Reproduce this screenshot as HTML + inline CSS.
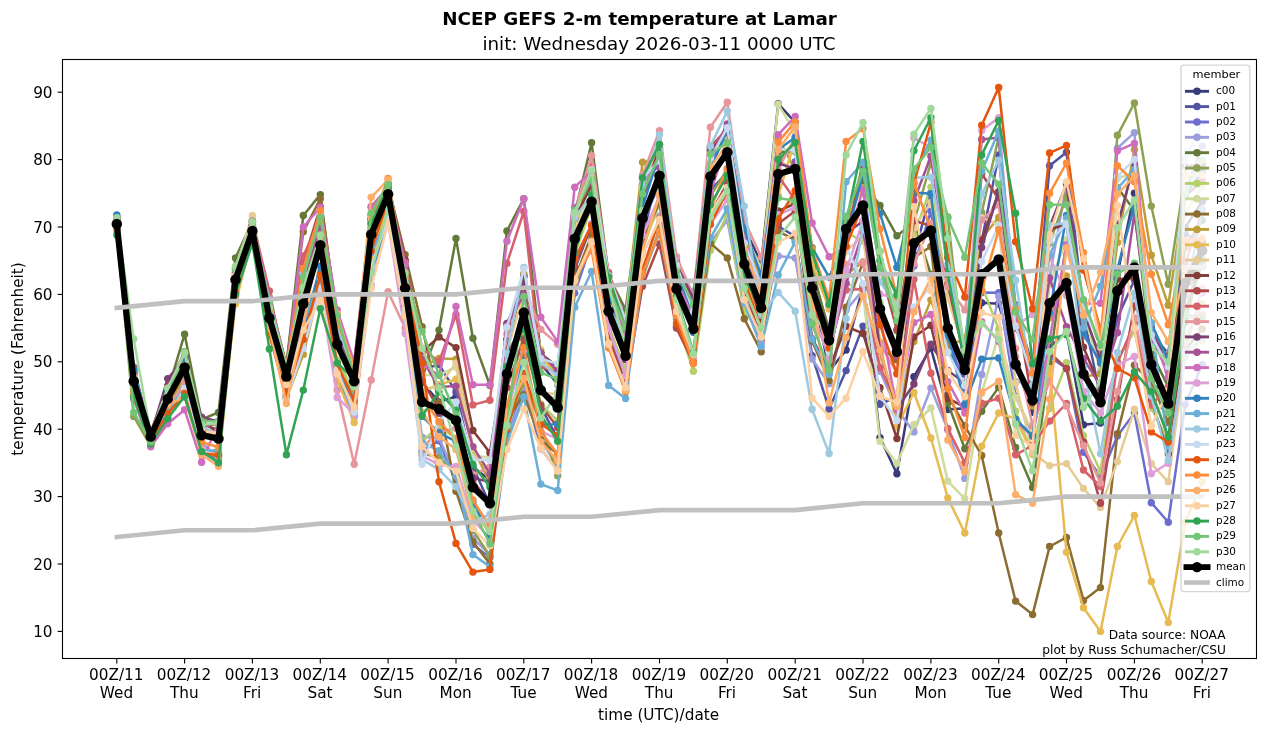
<!DOCTYPE html>
<html lang="en"><head><meta charset="utf-8"><title>NCEP GEFS 2-m temperature at Lamar</title>
<style>html,body{margin:0;padding:0;background:#fff}svg{display:block}text{font-family:"DejaVu Sans","Liberation Sans",sans-serif;fill:#000}</style></head>
<body>
<svg width="1266" height="733" viewBox="0 0 1266 733">
<rect width="1266" height="733" fill="#fff"/>
<defs><clipPath id="ax"><rect x="62.5" y="59.5" width="1194" height="599"/></clipPath></defs>
<g clip-path="url(#ax)">
<polyline points="116.8,218.4 133.7,374.4 150.7,433.8 167.7,386.8 184.6,355.1 201.6,422.3 218.5,430.8 235.5,275.2 252.4,226.6 269.4,312.2 286.4,372.5 303.3,295.5 320.3,222.0 337.2,320.1 354.2,366.9 371.2,223.1 388.1,190.4 405.1,281.9 422.1,382.2 439.0,401.9 456.0,396.6 472.9,467.1 489.9,480.1 506.9,339.2 523.8,275.9 540.8,363.7 557.7,384.2 574.7,208.1 591.6,177.0 608.6,281.4 625.6,328.8 642.5,185.9 659.5,148.9 676.5,266.8 693.4,315.2 710.4,156.3 727.3,131.5 744.3,227.7 761.2,263.0 778.2,103.7 795.2,122.5 812.1,284.6 829.1,371.2 846.1,350.0 863.0,286.8 880.0,437.6 896.9,473.7 913.9,376.7 930.9,348.2 947.8,409.5 964.8,408.3 981.7,302.8 998.7,303.8 1015.6,364.3 1032.6,412.2 1049.6,347.2 1066.5,331.9 1083.5,424.7 1100.5,423.1 1117.4,274.6 1134.4,193.3 1151.3,333.4 1168.3,353.8 1185.2,227.4 1202.2,201.6" fill="none" stroke="#393b79" stroke-width="2.50" stroke-linejoin="round" stroke-linecap="square"/>
<g fill="#393b79"><circle cx="116.8" cy="218.4" r="3.70"/><circle cx="133.7" cy="374.4" r="3.70"/><circle cx="150.7" cy="433.8" r="3.70"/><circle cx="167.7" cy="386.8" r="3.70"/><circle cx="184.6" cy="355.1" r="3.70"/><circle cx="201.6" cy="422.3" r="3.70"/><circle cx="218.5" cy="430.8" r="3.70"/><circle cx="235.5" cy="275.2" r="3.70"/><circle cx="252.4" cy="226.6" r="3.70"/><circle cx="269.4" cy="312.2" r="3.70"/><circle cx="286.4" cy="372.5" r="3.70"/><circle cx="303.3" cy="295.5" r="3.70"/><circle cx="320.3" cy="222.0" r="3.70"/><circle cx="337.2" cy="320.1" r="3.70"/><circle cx="354.2" cy="366.9" r="3.70"/><circle cx="371.2" cy="223.1" r="3.70"/><circle cx="388.1" cy="190.4" r="3.70"/><circle cx="405.1" cy="281.9" r="3.70"/><circle cx="422.1" cy="382.2" r="3.70"/><circle cx="439.0" cy="401.9" r="3.70"/><circle cx="456.0" cy="396.6" r="3.70"/><circle cx="472.9" cy="467.1" r="3.70"/><circle cx="489.9" cy="480.1" r="3.70"/><circle cx="506.9" cy="339.2" r="3.70"/><circle cx="523.8" cy="275.9" r="3.70"/><circle cx="540.8" cy="363.7" r="3.70"/><circle cx="557.7" cy="384.2" r="3.70"/><circle cx="574.7" cy="208.1" r="3.70"/><circle cx="591.6" cy="177.0" r="3.70"/><circle cx="608.6" cy="281.4" r="3.70"/><circle cx="625.6" cy="328.8" r="3.70"/><circle cx="642.5" cy="185.9" r="3.70"/><circle cx="659.5" cy="148.9" r="3.70"/><circle cx="676.5" cy="266.8" r="3.70"/><circle cx="693.4" cy="315.2" r="3.70"/><circle cx="710.4" cy="156.3" r="3.70"/><circle cx="727.3" cy="131.5" r="3.70"/><circle cx="744.3" cy="227.7" r="3.70"/><circle cx="761.2" cy="263.0" r="3.70"/><circle cx="778.2" cy="103.7" r="3.70"/><circle cx="795.2" cy="122.5" r="3.70"/><circle cx="812.1" cy="284.6" r="3.70"/><circle cx="829.1" cy="371.2" r="3.70"/><circle cx="846.1" cy="350.0" r="3.70"/><circle cx="863.0" cy="286.8" r="3.70"/><circle cx="880.0" cy="437.6" r="3.70"/><circle cx="896.9" cy="473.7" r="3.70"/><circle cx="913.9" cy="376.7" r="3.70"/><circle cx="930.9" cy="348.2" r="3.70"/><circle cx="947.8" cy="409.5" r="3.70"/><circle cx="964.8" cy="408.3" r="3.70"/><circle cx="981.7" cy="302.8" r="3.70"/><circle cx="998.7" cy="303.8" r="3.70"/><circle cx="1015.6" cy="364.3" r="3.70"/><circle cx="1032.6" cy="412.2" r="3.70"/><circle cx="1049.6" cy="347.2" r="3.70"/><circle cx="1066.5" cy="331.9" r="3.70"/><circle cx="1083.5" cy="424.7" r="3.70"/><circle cx="1100.5" cy="423.1" r="3.70"/><circle cx="1117.4" cy="274.6" r="3.70"/><circle cx="1134.4" cy="193.3" r="3.70"/><circle cx="1151.3" cy="333.4" r="3.70"/><circle cx="1168.3" cy="353.8" r="3.70"/><circle cx="1185.2" cy="227.4" r="3.70"/><circle cx="1202.2" cy="201.6" r="3.70"/></g>
<polyline points="116.8,224.6 133.7,388.0 150.7,443.4 167.7,414.3 184.6,391.1 201.6,452.3 218.5,452.2 235.5,285.9 252.4,233.3 269.4,313.0 286.4,372.6 303.3,295.7 320.3,233.1 337.2,332.6 354.2,365.8 371.2,227.4 388.1,193.7 405.1,279.3 422.1,369.4 439.0,364.5 456.0,391.9 472.9,466.7 489.9,504.5 506.9,353.8 523.8,323.8 540.8,407.0 557.7,438.4 574.7,269.5 591.6,224.5 608.6,338.7 625.6,380.5 642.5,237.5 659.5,167.2 676.5,290.3 693.4,332.2 710.4,189.8 727.3,173.0 744.3,297.5 761.2,341.8 778.2,226.3 795.2,236.4 812.1,355.7 829.1,409.0 846.1,370.6 863.0,326.1 880.0,404.3 896.9,396.7 913.9,254.8 930.9,193.3 947.8,352.4 964.8,374.3 981.7,241.0 998.7,154.9 1015.6,328.0 1032.6,366.3 1049.6,165.7 1066.5,152.2 1083.5,315.3 1100.5,397.4 1117.4,318.0 1134.4,280.1 1151.3,384.6 1168.3,392.2 1185.2,234.1 1202.2,241.9" fill="none" stroke="#5254a3" stroke-width="2.50" stroke-linejoin="round" stroke-linecap="square"/>
<g fill="#5254a3"><circle cx="116.8" cy="224.6" r="3.70"/><circle cx="133.7" cy="388.0" r="3.70"/><circle cx="150.7" cy="443.4" r="3.70"/><circle cx="167.7" cy="414.3" r="3.70"/><circle cx="184.6" cy="391.1" r="3.70"/><circle cx="201.6" cy="452.3" r="3.70"/><circle cx="218.5" cy="452.2" r="3.70"/><circle cx="235.5" cy="285.9" r="3.70"/><circle cx="252.4" cy="233.3" r="3.70"/><circle cx="269.4" cy="313.0" r="3.70"/><circle cx="286.4" cy="372.6" r="3.70"/><circle cx="303.3" cy="295.7" r="3.70"/><circle cx="320.3" cy="233.1" r="3.70"/><circle cx="337.2" cy="332.6" r="3.70"/><circle cx="354.2" cy="365.8" r="3.70"/><circle cx="371.2" cy="227.4" r="3.70"/><circle cx="388.1" cy="193.7" r="3.70"/><circle cx="405.1" cy="279.3" r="3.70"/><circle cx="422.1" cy="369.4" r="3.70"/><circle cx="439.0" cy="364.5" r="3.70"/><circle cx="456.0" cy="391.9" r="3.70"/><circle cx="472.9" cy="466.7" r="3.70"/><circle cx="489.9" cy="504.5" r="3.70"/><circle cx="506.9" cy="353.8" r="3.70"/><circle cx="523.8" cy="323.8" r="3.70"/><circle cx="540.8" cy="407.0" r="3.70"/><circle cx="557.7" cy="438.4" r="3.70"/><circle cx="574.7" cy="269.5" r="3.70"/><circle cx="591.6" cy="224.5" r="3.70"/><circle cx="608.6" cy="338.7" r="3.70"/><circle cx="625.6" cy="380.5" r="3.70"/><circle cx="642.5" cy="237.5" r="3.70"/><circle cx="659.5" cy="167.2" r="3.70"/><circle cx="676.5" cy="290.3" r="3.70"/><circle cx="693.4" cy="332.2" r="3.70"/><circle cx="710.4" cy="189.8" r="3.70"/><circle cx="727.3" cy="173.0" r="3.70"/><circle cx="744.3" cy="297.5" r="3.70"/><circle cx="761.2" cy="341.8" r="3.70"/><circle cx="778.2" cy="226.3" r="3.70"/><circle cx="795.2" cy="236.4" r="3.70"/><circle cx="812.1" cy="355.7" r="3.70"/><circle cx="829.1" cy="409.0" r="3.70"/><circle cx="846.1" cy="370.6" r="3.70"/><circle cx="863.0" cy="326.1" r="3.70"/><circle cx="880.0" cy="404.3" r="3.70"/><circle cx="896.9" cy="396.7" r="3.70"/><circle cx="913.9" cy="254.8" r="3.70"/><circle cx="930.9" cy="193.3" r="3.70"/><circle cx="947.8" cy="352.4" r="3.70"/><circle cx="964.8" cy="374.3" r="3.70"/><circle cx="981.7" cy="241.0" r="3.70"/><circle cx="998.7" cy="154.9" r="3.70"/><circle cx="1015.6" cy="328.0" r="3.70"/><circle cx="1032.6" cy="366.3" r="3.70"/><circle cx="1049.6" cy="165.7" r="3.70"/><circle cx="1066.5" cy="152.2" r="3.70"/><circle cx="1083.5" cy="315.3" r="3.70"/><circle cx="1100.5" cy="397.4" r="3.70"/><circle cx="1117.4" cy="318.0" r="3.70"/><circle cx="1134.4" cy="280.1" r="3.70"/><circle cx="1151.3" cy="384.6" r="3.70"/><circle cx="1168.3" cy="392.2" r="3.70"/><circle cx="1185.2" cy="234.1" r="3.70"/><circle cx="1202.2" cy="241.9" r="3.70"/></g>
<polyline points="116.8,225.3 133.7,394.9 150.7,442.1 167.7,417.1 184.6,391.8 201.6,451.2 218.5,459.3 235.5,294.4 252.4,236.4 269.4,327.5 286.4,398.2 303.3,345.5 320.3,278.0 337.2,379.8 354.2,414.2 371.2,271.0 388.1,220.8 405.1,306.4 422.1,450.9 439.0,440.8 456.0,482.8 472.9,544.4 489.9,557.6 506.9,440.7 523.8,384.4 540.8,448.7 557.7,470.3 574.7,293.1 591.6,242.8 608.6,334.3 625.6,374.0 642.5,223.2 659.5,183.4 676.5,271.5 693.4,292.4 710.4,158.8 727.3,139.7 744.3,242.2 761.2,298.1 778.2,179.9 795.2,161.6 812.1,273.8 829.1,329.0 846.1,224.8 863.0,183.1 880.0,307.8 896.9,359.5 913.9,266.0 930.9,211.1 947.8,331.5 964.8,391.3 981.7,292.4 998.7,292.7 1015.6,396.1 1032.6,433.9 1049.6,356.8 1066.5,368.6 1083.5,452.2 1100.5,476.4 1117.4,435.9 1134.4,413.0 1151.3,502.7 1168.3,522.2 1185.2,404.5 1202.2,364.6" fill="none" stroke="#6b6ecf" stroke-width="2.50" stroke-linejoin="round" stroke-linecap="square"/>
<g fill="#6b6ecf"><circle cx="116.8" cy="225.3" r="3.70"/><circle cx="133.7" cy="394.9" r="3.70"/><circle cx="150.7" cy="442.1" r="3.70"/><circle cx="167.7" cy="417.1" r="3.70"/><circle cx="184.6" cy="391.8" r="3.70"/><circle cx="201.6" cy="451.2" r="3.70"/><circle cx="218.5" cy="459.3" r="3.70"/><circle cx="235.5" cy="294.4" r="3.70"/><circle cx="252.4" cy="236.4" r="3.70"/><circle cx="269.4" cy="327.5" r="3.70"/><circle cx="286.4" cy="398.2" r="3.70"/><circle cx="303.3" cy="345.5" r="3.70"/><circle cx="320.3" cy="278.0" r="3.70"/><circle cx="337.2" cy="379.8" r="3.70"/><circle cx="354.2" cy="414.2" r="3.70"/><circle cx="371.2" cy="271.0" r="3.70"/><circle cx="388.1" cy="220.8" r="3.70"/><circle cx="405.1" cy="306.4" r="3.70"/><circle cx="422.1" cy="450.9" r="3.70"/><circle cx="439.0" cy="440.8" r="3.70"/><circle cx="456.0" cy="482.8" r="3.70"/><circle cx="472.9" cy="544.4" r="3.70"/><circle cx="489.9" cy="557.6" r="3.70"/><circle cx="506.9" cy="440.7" r="3.70"/><circle cx="523.8" cy="384.4" r="3.70"/><circle cx="540.8" cy="448.7" r="3.70"/><circle cx="557.7" cy="470.3" r="3.70"/><circle cx="574.7" cy="293.1" r="3.70"/><circle cx="591.6" cy="242.8" r="3.70"/><circle cx="608.6" cy="334.3" r="3.70"/><circle cx="625.6" cy="374.0" r="3.70"/><circle cx="642.5" cy="223.2" r="3.70"/><circle cx="659.5" cy="183.4" r="3.70"/><circle cx="676.5" cy="271.5" r="3.70"/><circle cx="693.4" cy="292.4" r="3.70"/><circle cx="710.4" cy="158.8" r="3.70"/><circle cx="727.3" cy="139.7" r="3.70"/><circle cx="744.3" cy="242.2" r="3.70"/><circle cx="761.2" cy="298.1" r="3.70"/><circle cx="778.2" cy="179.9" r="3.70"/><circle cx="795.2" cy="161.6" r="3.70"/><circle cx="812.1" cy="273.8" r="3.70"/><circle cx="829.1" cy="329.0" r="3.70"/><circle cx="846.1" cy="224.8" r="3.70"/><circle cx="863.0" cy="183.1" r="3.70"/><circle cx="880.0" cy="307.8" r="3.70"/><circle cx="896.9" cy="359.5" r="3.70"/><circle cx="913.9" cy="266.0" r="3.70"/><circle cx="930.9" cy="211.1" r="3.70"/><circle cx="947.8" cy="331.5" r="3.70"/><circle cx="964.8" cy="391.3" r="3.70"/><circle cx="981.7" cy="292.4" r="3.70"/><circle cx="998.7" cy="292.7" r="3.70"/><circle cx="1015.6" cy="396.1" r="3.70"/><circle cx="1032.6" cy="433.9" r="3.70"/><circle cx="1049.6" cy="356.8" r="3.70"/><circle cx="1066.5" cy="368.6" r="3.70"/><circle cx="1083.5" cy="452.2" r="3.70"/><circle cx="1100.5" cy="476.4" r="3.70"/><circle cx="1117.4" cy="435.9" r="3.70"/><circle cx="1134.4" cy="413.0" r="3.70"/><circle cx="1151.3" cy="502.7" r="3.70"/><circle cx="1168.3" cy="522.2" r="3.70"/><circle cx="1185.2" cy="404.5" r="3.70"/><circle cx="1202.2" cy="364.6" r="3.70"/></g>
<polyline points="116.8,218.0 133.7,371.4 150.7,432.7 167.7,393.2 184.6,367.5 201.6,442.9 218.5,457.3 235.5,297.8 252.4,239.2 269.4,333.5 286.4,397.9 303.3,328.2 320.3,292.3 337.2,372.4 354.2,416.8 371.2,272.7 388.1,215.2 405.1,318.0 422.1,437.1 439.0,437.8 456.0,476.9 472.9,538.5 489.9,554.4 506.9,439.9 523.8,390.5 540.8,440.2 557.7,466.7 574.7,284.4 591.6,238.6 608.6,341.2 625.6,385.0 642.5,273.0 659.5,216.2 676.5,326.2 693.4,351.5 710.4,242.0 727.3,220.4 744.3,308.8 761.2,329.1 778.2,255.9 795.2,258.0 812.1,359.0 829.1,383.7 846.1,310.1 863.0,290.0 880.0,371.2 896.9,409.2 913.9,431.9 930.9,388.1 947.8,429.9 964.8,478.4 981.7,374.4 998.7,296.2 1015.6,381.6 1032.6,383.7 1049.6,277.4 1066.5,183.6 1083.5,335.9 1100.5,358.8 1117.4,148.1 1134.4,132.6 1151.3,348.3 1168.3,353.9 1185.2,191.8 1202.2,146.1" fill="none" stroke="#9c9ede" stroke-width="2.50" stroke-linejoin="round" stroke-linecap="square"/>
<g fill="#9c9ede"><circle cx="116.8" cy="218.0" r="3.70"/><circle cx="133.7" cy="371.4" r="3.70"/><circle cx="150.7" cy="432.7" r="3.70"/><circle cx="167.7" cy="393.2" r="3.70"/><circle cx="184.6" cy="367.5" r="3.70"/><circle cx="201.6" cy="442.9" r="3.70"/><circle cx="218.5" cy="457.3" r="3.70"/><circle cx="235.5" cy="297.8" r="3.70"/><circle cx="252.4" cy="239.2" r="3.70"/><circle cx="269.4" cy="333.5" r="3.70"/><circle cx="286.4" cy="397.9" r="3.70"/><circle cx="303.3" cy="328.2" r="3.70"/><circle cx="320.3" cy="292.3" r="3.70"/><circle cx="337.2" cy="372.4" r="3.70"/><circle cx="354.2" cy="416.8" r="3.70"/><circle cx="371.2" cy="272.7" r="3.70"/><circle cx="388.1" cy="215.2" r="3.70"/><circle cx="405.1" cy="318.0" r="3.70"/><circle cx="422.1" cy="437.1" r="3.70"/><circle cx="439.0" cy="437.8" r="3.70"/><circle cx="456.0" cy="476.9" r="3.70"/><circle cx="472.9" cy="538.5" r="3.70"/><circle cx="489.9" cy="554.4" r="3.70"/><circle cx="506.9" cy="439.9" r="3.70"/><circle cx="523.8" cy="390.5" r="3.70"/><circle cx="540.8" cy="440.2" r="3.70"/><circle cx="557.7" cy="466.7" r="3.70"/><circle cx="574.7" cy="284.4" r="3.70"/><circle cx="591.6" cy="238.6" r="3.70"/><circle cx="608.6" cy="341.2" r="3.70"/><circle cx="625.6" cy="385.0" r="3.70"/><circle cx="642.5" cy="273.0" r="3.70"/><circle cx="659.5" cy="216.2" r="3.70"/><circle cx="676.5" cy="326.2" r="3.70"/><circle cx="693.4" cy="351.5" r="3.70"/><circle cx="710.4" cy="242.0" r="3.70"/><circle cx="727.3" cy="220.4" r="3.70"/><circle cx="744.3" cy="308.8" r="3.70"/><circle cx="761.2" cy="329.1" r="3.70"/><circle cx="778.2" cy="255.9" r="3.70"/><circle cx="795.2" cy="258.0" r="3.70"/><circle cx="812.1" cy="359.0" r="3.70"/><circle cx="829.1" cy="383.7" r="3.70"/><circle cx="846.1" cy="310.1" r="3.70"/><circle cx="863.0" cy="290.0" r="3.70"/><circle cx="880.0" cy="371.2" r="3.70"/><circle cx="896.9" cy="409.2" r="3.70"/><circle cx="913.9" cy="431.9" r="3.70"/><circle cx="930.9" cy="388.1" r="3.70"/><circle cx="947.8" cy="429.9" r="3.70"/><circle cx="964.8" cy="478.4" r="3.70"/><circle cx="981.7" cy="374.4" r="3.70"/><circle cx="998.7" cy="296.2" r="3.70"/><circle cx="1015.6" cy="381.6" r="3.70"/><circle cx="1032.6" cy="383.7" r="3.70"/><circle cx="1049.6" cy="277.4" r="3.70"/><circle cx="1066.5" cy="183.6" r="3.70"/><circle cx="1083.5" cy="335.9" r="3.70"/><circle cx="1100.5" cy="358.8" r="3.70"/><circle cx="1117.4" cy="148.1" r="3.70"/><circle cx="1134.4" cy="132.6" r="3.70"/><circle cx="1151.3" cy="348.3" r="3.70"/><circle cx="1168.3" cy="353.9" r="3.70"/><circle cx="1185.2" cy="191.8" r="3.70"/><circle cx="1202.2" cy="146.1" r="3.70"/></g>
<polyline points="116.8,218.8 133.7,375.0 150.7,434.2 167.7,391.2 184.6,334.2 201.6,419.5 218.5,412.4 235.5,258.0 252.4,221.2 269.4,297.1 286.4,365.2 303.3,215.5 320.3,194.6 337.2,321.4 354.2,366.5 371.2,221.6 388.1,183.3 405.1,261.2 422.1,372.1 439.0,330.1 456.0,238.5 472.9,338.2 489.9,385.4 506.9,231.0 523.8,198.7 540.8,353.8 557.7,367.0 574.7,214.1 591.6,142.8 608.6,275.7 625.6,309.9 642.5,180.6 659.5,156.0 676.5,264.9 693.4,308.8 710.4,148.4 727.3,141.2 744.3,228.7 761.2,297.2 778.2,152.0 795.2,151.2 812.1,268.5 829.1,331.8 846.1,220.6 863.0,181.9 880.0,205.4 896.9,235.8 913.9,222.8 930.9,274.5 947.8,402.9 964.8,448.7 981.7,411.3 998.7,387.4 1015.6,447.4 1032.6,487.5 1049.6,363.1 1066.5,241.2 1083.5,302.8 1100.5,346.6 1117.4,187.6 1134.4,210.5 1151.3,352.1 1168.3,387.1 1185.2,247.1 1202.2,220.2" fill="none" stroke="#637939" stroke-width="2.50" stroke-linejoin="round" stroke-linecap="square"/>
<g fill="#637939"><circle cx="116.8" cy="218.8" r="3.70"/><circle cx="133.7" cy="375.0" r="3.70"/><circle cx="150.7" cy="434.2" r="3.70"/><circle cx="167.7" cy="391.2" r="3.70"/><circle cx="184.6" cy="334.2" r="3.70"/><circle cx="201.6" cy="419.5" r="3.70"/><circle cx="218.5" cy="412.4" r="3.70"/><circle cx="235.5" cy="258.0" r="3.70"/><circle cx="252.4" cy="221.2" r="3.70"/><circle cx="269.4" cy="297.1" r="3.70"/><circle cx="286.4" cy="365.2" r="3.70"/><circle cx="303.3" cy="215.5" r="3.70"/><circle cx="320.3" cy="194.6" r="3.70"/><circle cx="337.2" cy="321.4" r="3.70"/><circle cx="354.2" cy="366.5" r="3.70"/><circle cx="371.2" cy="221.6" r="3.70"/><circle cx="388.1" cy="183.3" r="3.70"/><circle cx="405.1" cy="261.2" r="3.70"/><circle cx="422.1" cy="372.1" r="3.70"/><circle cx="439.0" cy="330.1" r="3.70"/><circle cx="456.0" cy="238.5" r="3.70"/><circle cx="472.9" cy="338.2" r="3.70"/><circle cx="489.9" cy="385.4" r="3.70"/><circle cx="506.9" cy="231.0" r="3.70"/><circle cx="523.8" cy="198.7" r="3.70"/><circle cx="540.8" cy="353.8" r="3.70"/><circle cx="557.7" cy="367.0" r="3.70"/><circle cx="574.7" cy="214.1" r="3.70"/><circle cx="591.6" cy="142.8" r="3.70"/><circle cx="608.6" cy="275.7" r="3.70"/><circle cx="625.6" cy="309.9" r="3.70"/><circle cx="642.5" cy="180.6" r="3.70"/><circle cx="659.5" cy="156.0" r="3.70"/><circle cx="676.5" cy="264.9" r="3.70"/><circle cx="693.4" cy="308.8" r="3.70"/><circle cx="710.4" cy="148.4" r="3.70"/><circle cx="727.3" cy="141.2" r="3.70"/><circle cx="744.3" cy="228.7" r="3.70"/><circle cx="761.2" cy="297.2" r="3.70"/><circle cx="778.2" cy="152.0" r="3.70"/><circle cx="795.2" cy="151.2" r="3.70"/><circle cx="812.1" cy="268.5" r="3.70"/><circle cx="829.1" cy="331.8" r="3.70"/><circle cx="846.1" cy="220.6" r="3.70"/><circle cx="863.0" cy="181.9" r="3.70"/><circle cx="880.0" cy="205.4" r="3.70"/><circle cx="896.9" cy="235.8" r="3.70"/><circle cx="913.9" cy="222.8" r="3.70"/><circle cx="930.9" cy="274.5" r="3.70"/><circle cx="947.8" cy="402.9" r="3.70"/><circle cx="964.8" cy="448.7" r="3.70"/><circle cx="981.7" cy="411.3" r="3.70"/><circle cx="998.7" cy="387.4" r="3.70"/><circle cx="1015.6" cy="447.4" r="3.70"/><circle cx="1032.6" cy="487.5" r="3.70"/><circle cx="1049.6" cy="363.1" r="3.70"/><circle cx="1066.5" cy="241.2" r="3.70"/><circle cx="1083.5" cy="302.8" r="3.70"/><circle cx="1100.5" cy="346.6" r="3.70"/><circle cx="1117.4" cy="187.6" r="3.70"/><circle cx="1134.4" cy="210.5" r="3.70"/><circle cx="1151.3" cy="352.1" r="3.70"/><circle cx="1168.3" cy="387.1" r="3.70"/><circle cx="1185.2" cy="247.1" r="3.70"/><circle cx="1202.2" cy="220.2" r="3.70"/></g>
<polyline points="116.8,229.5 133.7,416.4 150.7,446.1 167.7,419.1 184.6,386.5 201.6,450.6 218.5,457.3 235.5,289.4 252.4,237.2 269.4,327.8 286.4,396.5 303.3,344.7 320.3,283.8 337.2,379.8 354.2,405.2 371.2,267.1 388.1,216.7 405.1,314.1 422.1,453.5 439.0,457.4 456.0,474.2 472.9,530.2 489.9,556.3 506.9,428.5 523.8,381.8 540.8,424.3 557.7,475.7 574.7,286.5 591.6,240.5 608.6,338.1 625.6,389.2 642.5,278.6 659.5,228.5 676.5,327.5 693.4,357.6 710.4,196.2 727.3,169.2 744.3,277.2 761.2,314.8 778.2,159.9 795.2,148.3 812.1,267.1 829.1,305.9 846.1,225.0 863.0,164.9 880.0,251.2 896.9,330.8 913.9,222.5 930.9,162.6 947.8,216.9 964.8,369.3 981.7,212.7 998.7,136.8 1015.6,307.8 1032.6,366.2 1049.6,242.9 1066.5,196.5 1083.5,315.1 1100.5,355.7 1117.4,135.3 1134.4,103.0 1151.3,206.1 1168.3,284.3 1185.2,174.9 1202.2,175.0" fill="none" stroke="#8ca252" stroke-width="2.50" stroke-linejoin="round" stroke-linecap="square"/>
<g fill="#8ca252"><circle cx="116.8" cy="229.5" r="3.70"/><circle cx="133.7" cy="416.4" r="3.70"/><circle cx="150.7" cy="446.1" r="3.70"/><circle cx="167.7" cy="419.1" r="3.70"/><circle cx="184.6" cy="386.5" r="3.70"/><circle cx="201.6" cy="450.6" r="3.70"/><circle cx="218.5" cy="457.3" r="3.70"/><circle cx="235.5" cy="289.4" r="3.70"/><circle cx="252.4" cy="237.2" r="3.70"/><circle cx="269.4" cy="327.8" r="3.70"/><circle cx="286.4" cy="396.5" r="3.70"/><circle cx="303.3" cy="344.7" r="3.70"/><circle cx="320.3" cy="283.8" r="3.70"/><circle cx="337.2" cy="379.8" r="3.70"/><circle cx="354.2" cy="405.2" r="3.70"/><circle cx="371.2" cy="267.1" r="3.70"/><circle cx="388.1" cy="216.7" r="3.70"/><circle cx="405.1" cy="314.1" r="3.70"/><circle cx="422.1" cy="453.5" r="3.70"/><circle cx="439.0" cy="457.4" r="3.70"/><circle cx="456.0" cy="474.2" r="3.70"/><circle cx="472.9" cy="530.2" r="3.70"/><circle cx="489.9" cy="556.3" r="3.70"/><circle cx="506.9" cy="428.5" r="3.70"/><circle cx="523.8" cy="381.8" r="3.70"/><circle cx="540.8" cy="424.3" r="3.70"/><circle cx="557.7" cy="475.7" r="3.70"/><circle cx="574.7" cy="286.5" r="3.70"/><circle cx="591.6" cy="240.5" r="3.70"/><circle cx="608.6" cy="338.1" r="3.70"/><circle cx="625.6" cy="389.2" r="3.70"/><circle cx="642.5" cy="278.6" r="3.70"/><circle cx="659.5" cy="228.5" r="3.70"/><circle cx="676.5" cy="327.5" r="3.70"/><circle cx="693.4" cy="357.6" r="3.70"/><circle cx="710.4" cy="196.2" r="3.70"/><circle cx="727.3" cy="169.2" r="3.70"/><circle cx="744.3" cy="277.2" r="3.70"/><circle cx="761.2" cy="314.8" r="3.70"/><circle cx="778.2" cy="159.9" r="3.70"/><circle cx="795.2" cy="148.3" r="3.70"/><circle cx="812.1" cy="267.1" r="3.70"/><circle cx="829.1" cy="305.9" r="3.70"/><circle cx="846.1" cy="225.0" r="3.70"/><circle cx="863.0" cy="164.9" r="3.70"/><circle cx="880.0" cy="251.2" r="3.70"/><circle cx="896.9" cy="330.8" r="3.70"/><circle cx="913.9" cy="222.5" r="3.70"/><circle cx="930.9" cy="162.6" r="3.70"/><circle cx="947.8" cy="216.9" r="3.70"/><circle cx="964.8" cy="369.3" r="3.70"/><circle cx="981.7" cy="212.7" r="3.70"/><circle cx="998.7" cy="136.8" r="3.70"/><circle cx="1015.6" cy="307.8" r="3.70"/><circle cx="1032.6" cy="366.2" r="3.70"/><circle cx="1049.6" cy="242.9" r="3.70"/><circle cx="1066.5" cy="196.5" r="3.70"/><circle cx="1083.5" cy="315.1" r="3.70"/><circle cx="1100.5" cy="355.7" r="3.70"/><circle cx="1117.4" cy="135.3" r="3.70"/><circle cx="1134.4" cy="103.0" r="3.70"/><circle cx="1151.3" cy="206.1" r="3.70"/><circle cx="1168.3" cy="284.3" r="3.70"/><circle cx="1185.2" cy="174.9" r="3.70"/><circle cx="1202.2" cy="175.0" r="3.70"/></g>
<polyline points="116.8,229.9 133.7,399.6 150.7,440.8 167.7,405.6 184.6,387.3 201.6,450.0 218.5,454.2 235.5,288.8 252.4,235.3 269.4,326.9 286.4,391.8 303.3,323.5 320.3,272.3 337.2,359.9 354.2,391.9 371.2,240.9 388.1,204.6 405.1,293.3 422.1,441.2 439.0,426.4 456.0,438.6 472.9,504.8 489.9,523.5 506.9,406.5 523.8,332.4 540.8,403.9 557.7,421.0 574.7,255.0 591.6,206.2 608.6,325.7 625.6,369.6 642.5,248.7 659.5,203.4 676.5,319.7 693.4,371.2 710.4,250.6 727.3,214.2 744.3,311.2 761.2,333.7 778.2,213.0 795.2,200.2 812.1,322.7 829.1,348.8 846.1,232.4 863.0,241.1 880.0,303.0 896.9,351.1 913.9,235.4 930.9,187.1 947.8,295.1 964.8,354.1 981.7,285.3 998.7,329.4 1015.6,411.3 1032.6,454.5 1049.6,408.6 1066.5,362.8 1083.5,435.8 1100.5,471.3 1117.4,360.0 1134.4,330.9 1151.3,408.0 1168.3,440.9 1185.2,337.5 1202.2,304.2" fill="none" stroke="#b5cf6b" stroke-width="2.50" stroke-linejoin="round" stroke-linecap="square"/>
<g fill="#b5cf6b"><circle cx="116.8" cy="229.9" r="3.70"/><circle cx="133.7" cy="399.6" r="3.70"/><circle cx="150.7" cy="440.8" r="3.70"/><circle cx="167.7" cy="405.6" r="3.70"/><circle cx="184.6" cy="387.3" r="3.70"/><circle cx="201.6" cy="450.0" r="3.70"/><circle cx="218.5" cy="454.2" r="3.70"/><circle cx="235.5" cy="288.8" r="3.70"/><circle cx="252.4" cy="235.3" r="3.70"/><circle cx="269.4" cy="326.9" r="3.70"/><circle cx="286.4" cy="391.8" r="3.70"/><circle cx="303.3" cy="323.5" r="3.70"/><circle cx="320.3" cy="272.3" r="3.70"/><circle cx="337.2" cy="359.9" r="3.70"/><circle cx="354.2" cy="391.9" r="3.70"/><circle cx="371.2" cy="240.9" r="3.70"/><circle cx="388.1" cy="204.6" r="3.70"/><circle cx="405.1" cy="293.3" r="3.70"/><circle cx="422.1" cy="441.2" r="3.70"/><circle cx="439.0" cy="426.4" r="3.70"/><circle cx="456.0" cy="438.6" r="3.70"/><circle cx="472.9" cy="504.8" r="3.70"/><circle cx="489.9" cy="523.5" r="3.70"/><circle cx="506.9" cy="406.5" r="3.70"/><circle cx="523.8" cy="332.4" r="3.70"/><circle cx="540.8" cy="403.9" r="3.70"/><circle cx="557.7" cy="421.0" r="3.70"/><circle cx="574.7" cy="255.0" r="3.70"/><circle cx="591.6" cy="206.2" r="3.70"/><circle cx="608.6" cy="325.7" r="3.70"/><circle cx="625.6" cy="369.6" r="3.70"/><circle cx="642.5" cy="248.7" r="3.70"/><circle cx="659.5" cy="203.4" r="3.70"/><circle cx="676.5" cy="319.7" r="3.70"/><circle cx="693.4" cy="371.2" r="3.70"/><circle cx="710.4" cy="250.6" r="3.70"/><circle cx="727.3" cy="214.2" r="3.70"/><circle cx="744.3" cy="311.2" r="3.70"/><circle cx="761.2" cy="333.7" r="3.70"/><circle cx="778.2" cy="213.0" r="3.70"/><circle cx="795.2" cy="200.2" r="3.70"/><circle cx="812.1" cy="322.7" r="3.70"/><circle cx="829.1" cy="348.8" r="3.70"/><circle cx="846.1" cy="232.4" r="3.70"/><circle cx="863.0" cy="241.1" r="3.70"/><circle cx="880.0" cy="303.0" r="3.70"/><circle cx="896.9" cy="351.1" r="3.70"/><circle cx="913.9" cy="235.4" r="3.70"/><circle cx="930.9" cy="187.1" r="3.70"/><circle cx="947.8" cy="295.1" r="3.70"/><circle cx="964.8" cy="354.1" r="3.70"/><circle cx="981.7" cy="285.3" r="3.70"/><circle cx="998.7" cy="329.4" r="3.70"/><circle cx="1015.6" cy="411.3" r="3.70"/><circle cx="1032.6" cy="454.5" r="3.70"/><circle cx="1049.6" cy="408.6" r="3.70"/><circle cx="1066.5" cy="362.8" r="3.70"/><circle cx="1083.5" cy="435.8" r="3.70"/><circle cx="1100.5" cy="471.3" r="3.70"/><circle cx="1117.4" cy="360.0" r="3.70"/><circle cx="1134.4" cy="330.9" r="3.70"/><circle cx="1151.3" cy="408.0" r="3.70"/><circle cx="1168.3" cy="440.9" r="3.70"/><circle cx="1185.2" cy="337.5" r="3.70"/><circle cx="1202.2" cy="304.2" r="3.70"/></g>
<polyline points="116.8,217.5 133.7,366.4 150.7,434.1 167.7,385.7 184.6,360.1 201.6,428.3 218.5,423.9 235.5,272.5 252.4,223.5 269.4,306.8 286.4,371.1 303.3,299.0 320.3,241.0 337.2,335.9 354.2,364.6 371.2,221.4 388.1,186.5 405.1,269.0 422.1,374.7 439.0,375.2 456.0,366.9 472.9,455.7 489.9,457.4 506.9,328.7 523.8,282.9 540.8,349.4 557.7,383.7 574.7,227.8 591.6,193.6 608.6,306.5 625.6,358.2 642.5,211.7 659.5,185.7 676.5,276.9 693.4,304.2 710.4,154.1 727.3,139.8 744.3,233.1 761.2,268.6 778.2,104.3 795.2,132.6 812.1,280.3 829.1,347.9 846.1,282.5 863.0,292.8 880.0,441.3 896.9,463.2 913.9,424.5 930.9,408.0 947.8,481.1 964.8,498.6 981.7,393.5 998.7,334.4 1015.6,397.5 1032.6,431.9 1049.6,283.9 1066.5,239.8 1083.5,312.6 1100.5,370.5 1117.4,178.5 1134.4,172.5 1151.3,322.4 1168.3,365.6 1185.2,213.5 1202.2,186.2" fill="none" stroke="#cedb9c" stroke-width="2.50" stroke-linejoin="round" stroke-linecap="square"/>
<g fill="#cedb9c"><circle cx="116.8" cy="217.5" r="3.70"/><circle cx="133.7" cy="366.4" r="3.70"/><circle cx="150.7" cy="434.1" r="3.70"/><circle cx="167.7" cy="385.7" r="3.70"/><circle cx="184.6" cy="360.1" r="3.70"/><circle cx="201.6" cy="428.3" r="3.70"/><circle cx="218.5" cy="423.9" r="3.70"/><circle cx="235.5" cy="272.5" r="3.70"/><circle cx="252.4" cy="223.5" r="3.70"/><circle cx="269.4" cy="306.8" r="3.70"/><circle cx="286.4" cy="371.1" r="3.70"/><circle cx="303.3" cy="299.0" r="3.70"/><circle cx="320.3" cy="241.0" r="3.70"/><circle cx="337.2" cy="335.9" r="3.70"/><circle cx="354.2" cy="364.6" r="3.70"/><circle cx="371.2" cy="221.4" r="3.70"/><circle cx="388.1" cy="186.5" r="3.70"/><circle cx="405.1" cy="269.0" r="3.70"/><circle cx="422.1" cy="374.7" r="3.70"/><circle cx="439.0" cy="375.2" r="3.70"/><circle cx="456.0" cy="366.9" r="3.70"/><circle cx="472.9" cy="455.7" r="3.70"/><circle cx="489.9" cy="457.4" r="3.70"/><circle cx="506.9" cy="328.7" r="3.70"/><circle cx="523.8" cy="282.9" r="3.70"/><circle cx="540.8" cy="349.4" r="3.70"/><circle cx="557.7" cy="383.7" r="3.70"/><circle cx="574.7" cy="227.8" r="3.70"/><circle cx="591.6" cy="193.6" r="3.70"/><circle cx="608.6" cy="306.5" r="3.70"/><circle cx="625.6" cy="358.2" r="3.70"/><circle cx="642.5" cy="211.7" r="3.70"/><circle cx="659.5" cy="185.7" r="3.70"/><circle cx="676.5" cy="276.9" r="3.70"/><circle cx="693.4" cy="304.2" r="3.70"/><circle cx="710.4" cy="154.1" r="3.70"/><circle cx="727.3" cy="139.8" r="3.70"/><circle cx="744.3" cy="233.1" r="3.70"/><circle cx="761.2" cy="268.6" r="3.70"/><circle cx="778.2" cy="104.3" r="3.70"/><circle cx="795.2" cy="132.6" r="3.70"/><circle cx="812.1" cy="280.3" r="3.70"/><circle cx="829.1" cy="347.9" r="3.70"/><circle cx="846.1" cy="282.5" r="3.70"/><circle cx="863.0" cy="292.8" r="3.70"/><circle cx="880.0" cy="441.3" r="3.70"/><circle cx="896.9" cy="463.2" r="3.70"/><circle cx="913.9" cy="424.5" r="3.70"/><circle cx="930.9" cy="408.0" r="3.70"/><circle cx="947.8" cy="481.1" r="3.70"/><circle cx="964.8" cy="498.6" r="3.70"/><circle cx="981.7" cy="393.5" r="3.70"/><circle cx="998.7" cy="334.4" r="3.70"/><circle cx="1015.6" cy="397.5" r="3.70"/><circle cx="1032.6" cy="431.9" r="3.70"/><circle cx="1049.6" cy="283.9" r="3.70"/><circle cx="1066.5" cy="239.8" r="3.70"/><circle cx="1083.5" cy="312.6" r="3.70"/><circle cx="1100.5" cy="370.5" r="3.70"/><circle cx="1117.4" cy="178.5" r="3.70"/><circle cx="1134.4" cy="172.5" r="3.70"/><circle cx="1151.3" cy="322.4" r="3.70"/><circle cx="1168.3" cy="365.6" r="3.70"/><circle cx="1185.2" cy="213.5" r="3.70"/><circle cx="1202.2" cy="186.2" r="3.70"/></g>
<polyline points="116.8,229.4 133.7,395.0 150.7,439.1 167.7,403.8 184.6,376.5 201.6,432.6 218.5,433.7 235.5,270.1 252.4,220.8 269.4,297.7 286.4,365.9 303.3,231.7 320.3,198.7 337.2,316.1 354.2,367.8 371.2,219.4 388.1,185.8 405.1,254.6 422.1,326.8 439.0,403.0 456.0,491.2 472.9,541.8 489.9,563.9 506.9,419.7 523.8,394.7 540.8,439.8 557.7,454.4 574.7,279.2 591.6,234.6 608.6,339.4 625.6,383.3 642.5,241.6 659.5,202.3 676.5,317.0 693.4,362.8 710.4,243.2 727.3,258.0 744.3,318.7 761.2,351.7 778.2,231.3 795.2,239.9 812.1,341.0 829.1,380.6 846.1,307.2 863.0,262.5 880.0,347.7 896.9,359.8 913.9,257.5 930.9,246.5 947.8,395.5 964.8,425.8 981.7,455.5 998.7,533.0 1015.6,601.1 1032.6,614.6 1049.6,546.5 1066.5,537.4 1083.5,600.4 1100.5,587.6 1117.4,433.6 1134.4,365.2 1151.3,382.0 1168.3,422.5 1185.2,350.0 1202.2,328.9" fill="none" stroke="#8c6d31" stroke-width="2.50" stroke-linejoin="round" stroke-linecap="square"/>
<g fill="#8c6d31"><circle cx="116.8" cy="229.4" r="3.70"/><circle cx="133.7" cy="395.0" r="3.70"/><circle cx="150.7" cy="439.1" r="3.70"/><circle cx="167.7" cy="403.8" r="3.70"/><circle cx="184.6" cy="376.5" r="3.70"/><circle cx="201.6" cy="432.6" r="3.70"/><circle cx="218.5" cy="433.7" r="3.70"/><circle cx="235.5" cy="270.1" r="3.70"/><circle cx="252.4" cy="220.8" r="3.70"/><circle cx="269.4" cy="297.7" r="3.70"/><circle cx="286.4" cy="365.9" r="3.70"/><circle cx="303.3" cy="231.7" r="3.70"/><circle cx="320.3" cy="198.7" r="3.70"/><circle cx="337.2" cy="316.1" r="3.70"/><circle cx="354.2" cy="367.8" r="3.70"/><circle cx="371.2" cy="219.4" r="3.70"/><circle cx="388.1" cy="185.8" r="3.70"/><circle cx="405.1" cy="254.6" r="3.70"/><circle cx="422.1" cy="326.8" r="3.70"/><circle cx="439.0" cy="403.0" r="3.70"/><circle cx="456.0" cy="491.2" r="3.70"/><circle cx="472.9" cy="541.8" r="3.70"/><circle cx="489.9" cy="563.9" r="3.70"/><circle cx="506.9" cy="419.7" r="3.70"/><circle cx="523.8" cy="394.7" r="3.70"/><circle cx="540.8" cy="439.8" r="3.70"/><circle cx="557.7" cy="454.4" r="3.70"/><circle cx="574.7" cy="279.2" r="3.70"/><circle cx="591.6" cy="234.6" r="3.70"/><circle cx="608.6" cy="339.4" r="3.70"/><circle cx="625.6" cy="383.3" r="3.70"/><circle cx="642.5" cy="241.6" r="3.70"/><circle cx="659.5" cy="202.3" r="3.70"/><circle cx="676.5" cy="317.0" r="3.70"/><circle cx="693.4" cy="362.8" r="3.70"/><circle cx="710.4" cy="243.2" r="3.70"/><circle cx="727.3" cy="258.0" r="3.70"/><circle cx="744.3" cy="318.7" r="3.70"/><circle cx="761.2" cy="351.7" r="3.70"/><circle cx="778.2" cy="231.3" r="3.70"/><circle cx="795.2" cy="239.9" r="3.70"/><circle cx="812.1" cy="341.0" r="3.70"/><circle cx="829.1" cy="380.6" r="3.70"/><circle cx="846.1" cy="307.2" r="3.70"/><circle cx="863.0" cy="262.5" r="3.70"/><circle cx="880.0" cy="347.7" r="3.70"/><circle cx="896.9" cy="359.8" r="3.70"/><circle cx="913.9" cy="257.5" r="3.70"/><circle cx="930.9" cy="246.5" r="3.70"/><circle cx="947.8" cy="395.5" r="3.70"/><circle cx="964.8" cy="425.8" r="3.70"/><circle cx="981.7" cy="455.5" r="3.70"/><circle cx="998.7" cy="533.0" r="3.70"/><circle cx="1015.6" cy="601.1" r="3.70"/><circle cx="1032.6" cy="614.6" r="3.70"/><circle cx="1049.6" cy="546.5" r="3.70"/><circle cx="1066.5" cy="537.4" r="3.70"/><circle cx="1083.5" cy="600.4" r="3.70"/><circle cx="1100.5" cy="587.6" r="3.70"/><circle cx="1117.4" cy="433.6" r="3.70"/><circle cx="1134.4" cy="365.2" r="3.70"/><circle cx="1151.3" cy="382.0" r="3.70"/><circle cx="1168.3" cy="422.5" r="3.70"/><circle cx="1185.2" cy="350.0" r="3.70"/><circle cx="1202.2" cy="328.9" r="3.70"/></g>
<polyline points="116.8,225.4 133.7,384.8 150.7,438.6 167.7,404.4 184.6,379.0 201.6,449.5 218.5,454.2 235.5,293.4 252.4,237.3 269.4,332.7 286.4,398.7 303.3,354.4 320.3,283.9 337.2,368.5 354.2,394.4 371.2,252.2 388.1,199.6 405.1,279.9 422.1,366.8 439.0,358.4 456.0,359.1 472.9,448.0 489.9,482.8 506.9,350.8 523.8,273.6 540.8,351.7 557.7,375.0 574.7,226.3 591.6,171.5 608.6,284.2 625.6,317.7 642.5,162.3 659.5,158.9 676.5,273.5 693.4,308.9 710.4,153.5 727.3,126.7 744.3,233.7 761.2,282.2 778.2,138.0 795.2,170.0 812.1,292.1 829.1,355.9 846.1,274.4 863.0,261.9 880.0,355.8 896.9,415.1 913.9,341.6 930.9,300.1 947.8,345.6 964.8,338.9 981.7,238.1 998.7,217.5 1015.6,356.9 1032.6,406.0 1049.6,317.7 1066.5,276.0 1083.5,376.7 1100.5,373.7 1117.4,242.5 1134.4,149.5 1151.3,255.3 1168.3,305.2 1185.2,193.2 1202.2,173.1" fill="none" stroke="#bd9e39" stroke-width="2.50" stroke-linejoin="round" stroke-linecap="square"/>
<g fill="#bd9e39"><circle cx="116.8" cy="225.4" r="3.70"/><circle cx="133.7" cy="384.8" r="3.70"/><circle cx="150.7" cy="438.6" r="3.70"/><circle cx="167.7" cy="404.4" r="3.70"/><circle cx="184.6" cy="379.0" r="3.70"/><circle cx="201.6" cy="449.5" r="3.70"/><circle cx="218.5" cy="454.2" r="3.70"/><circle cx="235.5" cy="293.4" r="3.70"/><circle cx="252.4" cy="237.3" r="3.70"/><circle cx="269.4" cy="332.7" r="3.70"/><circle cx="286.4" cy="398.7" r="3.70"/><circle cx="303.3" cy="354.4" r="3.70"/><circle cx="320.3" cy="283.9" r="3.70"/><circle cx="337.2" cy="368.5" r="3.70"/><circle cx="354.2" cy="394.4" r="3.70"/><circle cx="371.2" cy="252.2" r="3.70"/><circle cx="388.1" cy="199.6" r="3.70"/><circle cx="405.1" cy="279.9" r="3.70"/><circle cx="422.1" cy="366.8" r="3.70"/><circle cx="439.0" cy="358.4" r="3.70"/><circle cx="456.0" cy="359.1" r="3.70"/><circle cx="472.9" cy="448.0" r="3.70"/><circle cx="489.9" cy="482.8" r="3.70"/><circle cx="506.9" cy="350.8" r="3.70"/><circle cx="523.8" cy="273.6" r="3.70"/><circle cx="540.8" cy="351.7" r="3.70"/><circle cx="557.7" cy="375.0" r="3.70"/><circle cx="574.7" cy="226.3" r="3.70"/><circle cx="591.6" cy="171.5" r="3.70"/><circle cx="608.6" cy="284.2" r="3.70"/><circle cx="625.6" cy="317.7" r="3.70"/><circle cx="642.5" cy="162.3" r="3.70"/><circle cx="659.5" cy="158.9" r="3.70"/><circle cx="676.5" cy="273.5" r="3.70"/><circle cx="693.4" cy="308.9" r="3.70"/><circle cx="710.4" cy="153.5" r="3.70"/><circle cx="727.3" cy="126.7" r="3.70"/><circle cx="744.3" cy="233.7" r="3.70"/><circle cx="761.2" cy="282.2" r="3.70"/><circle cx="778.2" cy="138.0" r="3.70"/><circle cx="795.2" cy="170.0" r="3.70"/><circle cx="812.1" cy="292.1" r="3.70"/><circle cx="829.1" cy="355.9" r="3.70"/><circle cx="846.1" cy="274.4" r="3.70"/><circle cx="863.0" cy="261.9" r="3.70"/><circle cx="880.0" cy="355.8" r="3.70"/><circle cx="896.9" cy="415.1" r="3.70"/><circle cx="913.9" cy="341.6" r="3.70"/><circle cx="930.9" cy="300.1" r="3.70"/><circle cx="947.8" cy="345.6" r="3.70"/><circle cx="964.8" cy="338.9" r="3.70"/><circle cx="981.7" cy="238.1" r="3.70"/><circle cx="998.7" cy="217.5" r="3.70"/><circle cx="1015.6" cy="356.9" r="3.70"/><circle cx="1032.6" cy="406.0" r="3.70"/><circle cx="1049.6" cy="317.7" r="3.70"/><circle cx="1066.5" cy="276.0" r="3.70"/><circle cx="1083.5" cy="376.7" r="3.70"/><circle cx="1100.5" cy="373.7" r="3.70"/><circle cx="1117.4" cy="242.5" r="3.70"/><circle cx="1134.4" cy="149.5" r="3.70"/><circle cx="1151.3" cy="255.3" r="3.70"/><circle cx="1168.3" cy="305.2" r="3.70"/><circle cx="1185.2" cy="193.2" r="3.70"/><circle cx="1202.2" cy="173.1" r="3.70"/></g>
<polyline points="116.8,230.5 133.7,396.3 150.7,442.2 167.7,409.5 184.6,384.9 201.6,453.4 218.5,454.7 235.5,303.8 252.4,236.0 269.4,330.7 286.4,396.4 303.3,340.9 320.3,285.6 337.2,379.9 354.2,422.5 371.2,260.7 388.1,206.7 405.1,291.1 422.1,390.9 439.0,384.7 456.0,379.3 472.9,450.4 489.9,473.0 506.9,347.2 523.8,277.5 540.8,356.4 557.7,376.4 574.7,224.4 591.6,181.1 608.6,293.3 625.6,337.8 642.5,189.0 659.5,152.2 676.5,288.8 693.4,320.5 710.4,171.9 727.3,156.4 744.3,281.2 761.2,319.8 778.2,195.7 795.2,139.6 812.1,262.6 829.1,309.1 846.1,216.8 863.0,187.9 880.0,341.9 896.9,426.8 913.9,392.5 930.9,438.0 947.8,497.9 964.8,533.0 981.7,446.1 998.7,413.0 1015.6,418.9 1032.6,453.5 1049.6,368.5 1066.5,552.2 1083.5,607.8 1100.5,631.4 1117.4,546.5 1134.4,515.5 1151.3,581.5 1168.3,622.6 1185.2,522.2 1202.2,481.8" fill="none" stroke="#e7ba52" stroke-width="2.50" stroke-linejoin="round" stroke-linecap="square"/>
<g fill="#e7ba52"><circle cx="116.8" cy="230.5" r="3.70"/><circle cx="133.7" cy="396.3" r="3.70"/><circle cx="150.7" cy="442.2" r="3.70"/><circle cx="167.7" cy="409.5" r="3.70"/><circle cx="184.6" cy="384.9" r="3.70"/><circle cx="201.6" cy="453.4" r="3.70"/><circle cx="218.5" cy="454.7" r="3.70"/><circle cx="235.5" cy="303.8" r="3.70"/><circle cx="252.4" cy="236.0" r="3.70"/><circle cx="269.4" cy="330.7" r="3.70"/><circle cx="286.4" cy="396.4" r="3.70"/><circle cx="303.3" cy="340.9" r="3.70"/><circle cx="320.3" cy="285.6" r="3.70"/><circle cx="337.2" cy="379.9" r="3.70"/><circle cx="354.2" cy="422.5" r="3.70"/><circle cx="371.2" cy="260.7" r="3.70"/><circle cx="388.1" cy="206.7" r="3.70"/><circle cx="405.1" cy="291.1" r="3.70"/><circle cx="422.1" cy="390.9" r="3.70"/><circle cx="439.0" cy="384.7" r="3.70"/><circle cx="456.0" cy="379.3" r="3.70"/><circle cx="472.9" cy="450.4" r="3.70"/><circle cx="489.9" cy="473.0" r="3.70"/><circle cx="506.9" cy="347.2" r="3.70"/><circle cx="523.8" cy="277.5" r="3.70"/><circle cx="540.8" cy="356.4" r="3.70"/><circle cx="557.7" cy="376.4" r="3.70"/><circle cx="574.7" cy="224.4" r="3.70"/><circle cx="591.6" cy="181.1" r="3.70"/><circle cx="608.6" cy="293.3" r="3.70"/><circle cx="625.6" cy="337.8" r="3.70"/><circle cx="642.5" cy="189.0" r="3.70"/><circle cx="659.5" cy="152.2" r="3.70"/><circle cx="676.5" cy="288.8" r="3.70"/><circle cx="693.4" cy="320.5" r="3.70"/><circle cx="710.4" cy="171.9" r="3.70"/><circle cx="727.3" cy="156.4" r="3.70"/><circle cx="744.3" cy="281.2" r="3.70"/><circle cx="761.2" cy="319.8" r="3.70"/><circle cx="778.2" cy="195.7" r="3.70"/><circle cx="795.2" cy="139.6" r="3.70"/><circle cx="812.1" cy="262.6" r="3.70"/><circle cx="829.1" cy="309.1" r="3.70"/><circle cx="846.1" cy="216.8" r="3.70"/><circle cx="863.0" cy="187.9" r="3.70"/><circle cx="880.0" cy="341.9" r="3.70"/><circle cx="896.9" cy="426.8" r="3.70"/><circle cx="913.9" cy="392.5" r="3.70"/><circle cx="930.9" cy="438.0" r="3.70"/><circle cx="947.8" cy="497.9" r="3.70"/><circle cx="964.8" cy="533.0" r="3.70"/><circle cx="981.7" cy="446.1" r="3.70"/><circle cx="998.7" cy="413.0" r="3.70"/><circle cx="1015.6" cy="418.9" r="3.70"/><circle cx="1032.6" cy="453.5" r="3.70"/><circle cx="1049.6" cy="368.5" r="3.70"/><circle cx="1066.5" cy="552.2" r="3.70"/><circle cx="1083.5" cy="607.8" r="3.70"/><circle cx="1100.5" cy="631.4" r="3.70"/><circle cx="1117.4" cy="546.5" r="3.70"/><circle cx="1134.4" cy="515.5" r="3.70"/><circle cx="1151.3" cy="581.5" r="3.70"/><circle cx="1168.3" cy="622.6" r="3.70"/><circle cx="1185.2" cy="522.2" r="3.70"/><circle cx="1202.2" cy="481.8" r="3.70"/></g>
<polyline points="116.8,222.4 133.7,379.3 150.7,436.7 167.7,404.7 184.6,364.1 201.6,431.7 218.5,428.7 235.5,268.1 252.4,215.5 269.4,297.2 286.4,368.0 303.3,274.8 320.3,222.6 337.2,324.3 354.2,365.4 371.2,214.0 388.1,182.8 405.1,285.9 422.1,390.8 439.0,386.1 456.0,363.1 472.9,448.1 489.9,472.3 506.9,351.7 523.8,293.8 540.8,392.5 557.7,394.2 574.7,223.5 591.6,203.6 608.6,316.4 625.6,344.1 642.5,181.6 659.5,149.2 676.5,267.1 693.4,299.1 710.4,146.3 727.3,129.4 744.3,249.9 761.2,309.6 778.2,160.4 795.2,170.2 812.1,279.2 829.1,345.7 846.1,251.1 863.0,235.8 880.0,363.6 896.9,395.2 913.9,227.6 930.9,202.4 947.8,298.4 964.8,351.1 981.7,217.6 998.7,224.6 1015.6,382.7 1032.6,452.8 1049.6,465.6 1066.5,463.6 1083.5,488.5 1100.5,507.4 1117.4,461.6 1134.4,409.3 1151.3,463.6 1168.3,481.8 1185.2,356.4 1202.2,341.1" fill="none" stroke="#e7cb94" stroke-width="2.50" stroke-linejoin="round" stroke-linecap="square"/>
<g fill="#e7cb94"><circle cx="116.8" cy="222.4" r="3.70"/><circle cx="133.7" cy="379.3" r="3.70"/><circle cx="150.7" cy="436.7" r="3.70"/><circle cx="167.7" cy="404.7" r="3.70"/><circle cx="184.6" cy="364.1" r="3.70"/><circle cx="201.6" cy="431.7" r="3.70"/><circle cx="218.5" cy="428.7" r="3.70"/><circle cx="235.5" cy="268.1" r="3.70"/><circle cx="252.4" cy="215.5" r="3.70"/><circle cx="269.4" cy="297.2" r="3.70"/><circle cx="286.4" cy="368.0" r="3.70"/><circle cx="303.3" cy="274.8" r="3.70"/><circle cx="320.3" cy="222.6" r="3.70"/><circle cx="337.2" cy="324.3" r="3.70"/><circle cx="354.2" cy="365.4" r="3.70"/><circle cx="371.2" cy="214.0" r="3.70"/><circle cx="388.1" cy="182.8" r="3.70"/><circle cx="405.1" cy="285.9" r="3.70"/><circle cx="422.1" cy="390.8" r="3.70"/><circle cx="439.0" cy="386.1" r="3.70"/><circle cx="456.0" cy="363.1" r="3.70"/><circle cx="472.9" cy="448.1" r="3.70"/><circle cx="489.9" cy="472.3" r="3.70"/><circle cx="506.9" cy="351.7" r="3.70"/><circle cx="523.8" cy="293.8" r="3.70"/><circle cx="540.8" cy="392.5" r="3.70"/><circle cx="557.7" cy="394.2" r="3.70"/><circle cx="574.7" cy="223.5" r="3.70"/><circle cx="591.6" cy="203.6" r="3.70"/><circle cx="608.6" cy="316.4" r="3.70"/><circle cx="625.6" cy="344.1" r="3.70"/><circle cx="642.5" cy="181.6" r="3.70"/><circle cx="659.5" cy="149.2" r="3.70"/><circle cx="676.5" cy="267.1" r="3.70"/><circle cx="693.4" cy="299.1" r="3.70"/><circle cx="710.4" cy="146.3" r="3.70"/><circle cx="727.3" cy="129.4" r="3.70"/><circle cx="744.3" cy="249.9" r="3.70"/><circle cx="761.2" cy="309.6" r="3.70"/><circle cx="778.2" cy="160.4" r="3.70"/><circle cx="795.2" cy="170.2" r="3.70"/><circle cx="812.1" cy="279.2" r="3.70"/><circle cx="829.1" cy="345.7" r="3.70"/><circle cx="846.1" cy="251.1" r="3.70"/><circle cx="863.0" cy="235.8" r="3.70"/><circle cx="880.0" cy="363.6" r="3.70"/><circle cx="896.9" cy="395.2" r="3.70"/><circle cx="913.9" cy="227.6" r="3.70"/><circle cx="930.9" cy="202.4" r="3.70"/><circle cx="947.8" cy="298.4" r="3.70"/><circle cx="964.8" cy="351.1" r="3.70"/><circle cx="981.7" cy="217.6" r="3.70"/><circle cx="998.7" cy="224.6" r="3.70"/><circle cx="1015.6" cy="382.7" r="3.70"/><circle cx="1032.6" cy="452.8" r="3.70"/><circle cx="1049.6" cy="465.6" r="3.70"/><circle cx="1066.5" cy="463.6" r="3.70"/><circle cx="1083.5" cy="488.5" r="3.70"/><circle cx="1100.5" cy="507.4" r="3.70"/><circle cx="1117.4" cy="461.6" r="3.70"/><circle cx="1134.4" cy="409.3" r="3.70"/><circle cx="1151.3" cy="463.6" r="3.70"/><circle cx="1168.3" cy="481.8" r="3.70"/><circle cx="1185.2" cy="356.4" r="3.70"/><circle cx="1202.2" cy="341.1" r="3.70"/></g>
<polyline points="116.8,220.2 133.7,371.3 150.7,433.7 167.7,389.8 184.6,351.9 201.6,422.1 218.5,431.9 235.5,278.3 252.4,226.1 269.4,317.1 286.4,375.5 303.3,295.8 320.3,239.5 337.2,331.6 354.2,363.4 371.2,218.8 388.1,187.1 405.1,260.0 422.1,351.7 439.0,336.9 456.0,347.6 472.9,430.5 489.9,452.8 506.9,348.5 523.8,276.4 540.8,353.7 557.7,367.0 574.7,218.5 591.6,185.1 608.6,276.1 625.6,329.4 642.5,197.6 659.5,147.4 676.5,261.4 693.4,313.1 710.4,146.8 727.3,129.5 744.3,267.5 761.2,319.5 778.2,210.9 795.2,203.8 812.1,338.7 829.1,369.1 846.1,326.3 863.0,333.5 880.0,387.8 896.9,438.6 913.9,336.9 930.9,325.2 947.8,398.2 964.8,407.4 981.7,240.1 998.7,192.0 1015.6,315.6 1032.6,373.7 1049.6,229.7 1066.5,223.7 1083.5,347.2 1100.5,387.8 1117.4,279.2 1134.4,277.9 1151.3,399.5 1168.3,453.8 1185.2,322.2 1202.2,242.2" fill="none" stroke="#843c39" stroke-width="2.50" stroke-linejoin="round" stroke-linecap="square"/>
<g fill="#843c39"><circle cx="116.8" cy="220.2" r="3.70"/><circle cx="133.7" cy="371.3" r="3.70"/><circle cx="150.7" cy="433.7" r="3.70"/><circle cx="167.7" cy="389.8" r="3.70"/><circle cx="184.6" cy="351.9" r="3.70"/><circle cx="201.6" cy="422.1" r="3.70"/><circle cx="218.5" cy="431.9" r="3.70"/><circle cx="235.5" cy="278.3" r="3.70"/><circle cx="252.4" cy="226.1" r="3.70"/><circle cx="269.4" cy="317.1" r="3.70"/><circle cx="286.4" cy="375.5" r="3.70"/><circle cx="303.3" cy="295.8" r="3.70"/><circle cx="320.3" cy="239.5" r="3.70"/><circle cx="337.2" cy="331.6" r="3.70"/><circle cx="354.2" cy="363.4" r="3.70"/><circle cx="371.2" cy="218.8" r="3.70"/><circle cx="388.1" cy="187.1" r="3.70"/><circle cx="405.1" cy="260.0" r="3.70"/><circle cx="422.1" cy="351.7" r="3.70"/><circle cx="439.0" cy="336.9" r="3.70"/><circle cx="456.0" cy="347.6" r="3.70"/><circle cx="472.9" cy="430.5" r="3.70"/><circle cx="489.9" cy="452.8" r="3.70"/><circle cx="506.9" cy="348.5" r="3.70"/><circle cx="523.8" cy="276.4" r="3.70"/><circle cx="540.8" cy="353.7" r="3.70"/><circle cx="557.7" cy="367.0" r="3.70"/><circle cx="574.7" cy="218.5" r="3.70"/><circle cx="591.6" cy="185.1" r="3.70"/><circle cx="608.6" cy="276.1" r="3.70"/><circle cx="625.6" cy="329.4" r="3.70"/><circle cx="642.5" cy="197.6" r="3.70"/><circle cx="659.5" cy="147.4" r="3.70"/><circle cx="676.5" cy="261.4" r="3.70"/><circle cx="693.4" cy="313.1" r="3.70"/><circle cx="710.4" cy="146.8" r="3.70"/><circle cx="727.3" cy="129.5" r="3.70"/><circle cx="744.3" cy="267.5" r="3.70"/><circle cx="761.2" cy="319.5" r="3.70"/><circle cx="778.2" cy="210.9" r="3.70"/><circle cx="795.2" cy="203.8" r="3.70"/><circle cx="812.1" cy="338.7" r="3.70"/><circle cx="829.1" cy="369.1" r="3.70"/><circle cx="846.1" cy="326.3" r="3.70"/><circle cx="863.0" cy="333.5" r="3.70"/><circle cx="880.0" cy="387.8" r="3.70"/><circle cx="896.9" cy="438.6" r="3.70"/><circle cx="913.9" cy="336.9" r="3.70"/><circle cx="930.9" cy="325.2" r="3.70"/><circle cx="947.8" cy="398.2" r="3.70"/><circle cx="964.8" cy="407.4" r="3.70"/><circle cx="981.7" cy="240.1" r="3.70"/><circle cx="998.7" cy="192.0" r="3.70"/><circle cx="1015.6" cy="315.6" r="3.70"/><circle cx="1032.6" cy="373.7" r="3.70"/><circle cx="1049.6" cy="229.7" r="3.70"/><circle cx="1066.5" cy="223.7" r="3.70"/><circle cx="1083.5" cy="347.2" r="3.70"/><circle cx="1100.5" cy="387.8" r="3.70"/><circle cx="1117.4" cy="279.2" r="3.70"/><circle cx="1134.4" cy="277.9" r="3.70"/><circle cx="1151.3" cy="399.5" r="3.70"/><circle cx="1168.3" cy="453.8" r="3.70"/><circle cx="1185.2" cy="322.2" r="3.70"/><circle cx="1202.2" cy="242.2" r="3.70"/></g>
<polyline points="116.8,222.1 133.7,372.4 150.7,432.5 167.7,387.0 184.6,356.6 201.6,429.2 218.5,438.7 235.5,279.1 252.4,225.4 269.4,312.2 286.4,370.0 303.3,262.4 320.3,206.8 337.2,315.6 354.2,371.0 371.2,215.2 388.1,184.3 405.1,284.3 422.1,380.9 439.0,409.0 456.0,421.2 472.9,480.7 489.9,502.7 506.9,387.5 523.8,339.0 540.8,405.5 557.7,427.6 574.7,266.5 591.6,225.6 608.6,336.3 625.6,387.1 642.5,286.3 659.5,243.9 676.5,328.1 693.4,362.8 710.4,213.9 727.3,183.0 744.3,284.9 761.2,341.4 778.2,223.7 795.2,210.9 812.1,307.7 829.1,342.9 846.1,237.5 863.0,167.4 880.0,267.3 896.9,329.8 913.9,220.7 930.9,225.7 947.8,284.3 964.8,359.2 981.7,173.8 998.7,199.0 1015.6,305.2 1032.6,402.9 1049.6,352.6 1066.5,368.5 1083.5,442.0 1100.5,503.3 1117.4,399.5 1134.4,306.0 1151.3,334.5 1168.3,357.0 1185.2,196.1 1202.2,180.9" fill="none" stroke="#ad494a" stroke-width="2.50" stroke-linejoin="round" stroke-linecap="square"/>
<g fill="#ad494a"><circle cx="116.8" cy="222.1" r="3.70"/><circle cx="133.7" cy="372.4" r="3.70"/><circle cx="150.7" cy="432.5" r="3.70"/><circle cx="167.7" cy="387.0" r="3.70"/><circle cx="184.6" cy="356.6" r="3.70"/><circle cx="201.6" cy="429.2" r="3.70"/><circle cx="218.5" cy="438.7" r="3.70"/><circle cx="235.5" cy="279.1" r="3.70"/><circle cx="252.4" cy="225.4" r="3.70"/><circle cx="269.4" cy="312.2" r="3.70"/><circle cx="286.4" cy="370.0" r="3.70"/><circle cx="303.3" cy="262.4" r="3.70"/><circle cx="320.3" cy="206.8" r="3.70"/><circle cx="337.2" cy="315.6" r="3.70"/><circle cx="354.2" cy="371.0" r="3.70"/><circle cx="371.2" cy="215.2" r="3.70"/><circle cx="388.1" cy="184.3" r="3.70"/><circle cx="405.1" cy="284.3" r="3.70"/><circle cx="422.1" cy="380.9" r="3.70"/><circle cx="439.0" cy="409.0" r="3.70"/><circle cx="456.0" cy="421.2" r="3.70"/><circle cx="472.9" cy="480.7" r="3.70"/><circle cx="489.9" cy="502.7" r="3.70"/><circle cx="506.9" cy="387.5" r="3.70"/><circle cx="523.8" cy="339.0" r="3.70"/><circle cx="540.8" cy="405.5" r="3.70"/><circle cx="557.7" cy="427.6" r="3.70"/><circle cx="574.7" cy="266.5" r="3.70"/><circle cx="591.6" cy="225.6" r="3.70"/><circle cx="608.6" cy="336.3" r="3.70"/><circle cx="625.6" cy="387.1" r="3.70"/><circle cx="642.5" cy="286.3" r="3.70"/><circle cx="659.5" cy="243.9" r="3.70"/><circle cx="676.5" cy="328.1" r="3.70"/><circle cx="693.4" cy="362.8" r="3.70"/><circle cx="710.4" cy="213.9" r="3.70"/><circle cx="727.3" cy="183.0" r="3.70"/><circle cx="744.3" cy="284.9" r="3.70"/><circle cx="761.2" cy="341.4" r="3.70"/><circle cx="778.2" cy="223.7" r="3.70"/><circle cx="795.2" cy="210.9" r="3.70"/><circle cx="812.1" cy="307.7" r="3.70"/><circle cx="829.1" cy="342.9" r="3.70"/><circle cx="846.1" cy="237.5" r="3.70"/><circle cx="863.0" cy="167.4" r="3.70"/><circle cx="880.0" cy="267.3" r="3.70"/><circle cx="896.9" cy="329.8" r="3.70"/><circle cx="913.9" cy="220.7" r="3.70"/><circle cx="930.9" cy="225.7" r="3.70"/><circle cx="947.8" cy="284.3" r="3.70"/><circle cx="964.8" cy="359.2" r="3.70"/><circle cx="981.7" cy="173.8" r="3.70"/><circle cx="998.7" cy="199.0" r="3.70"/><circle cx="1015.6" cy="305.2" r="3.70"/><circle cx="1032.6" cy="402.9" r="3.70"/><circle cx="1049.6" cy="352.6" r="3.70"/><circle cx="1066.5" cy="368.5" r="3.70"/><circle cx="1083.5" cy="442.0" r="3.70"/><circle cx="1100.5" cy="503.3" r="3.70"/><circle cx="1117.4" cy="399.5" r="3.70"/><circle cx="1134.4" cy="306.0" r="3.70"/><circle cx="1151.3" cy="334.5" r="3.70"/><circle cx="1168.3" cy="357.0" r="3.70"/><circle cx="1185.2" cy="196.1" r="3.70"/><circle cx="1202.2" cy="180.9" r="3.70"/></g>
<polyline points="116.8,217.0 133.7,371.7 150.7,432.1 167.7,386.0 184.6,352.2 201.6,427.3 218.5,423.1 235.5,273.9 252.4,221.3 269.4,291.0 286.4,374.0 303.3,255.9 320.3,218.5 337.2,326.9 354.2,374.4 371.2,206.4 388.1,187.8 405.1,262.2 422.1,348.6 439.0,361.8 456.0,314.6 472.9,404.9 489.9,400.2 506.9,263.4 523.8,211.5 540.8,366.3 557.7,372.8 574.7,212.2 591.6,166.3 608.6,272.5 625.6,320.1 642.5,177.3 659.5,144.5 676.5,263.8 693.4,307.4 710.4,149.8 727.3,127.2 744.3,252.3 761.2,312.4 778.2,175.8 795.2,200.1 812.1,303.3 829.1,345.3 846.1,290.0 863.0,289.0 880.0,367.8 896.9,402.8 913.9,279.2 930.9,373.3 947.8,428.4 964.8,462.9 981.7,403.3 998.7,398.2 1015.6,454.8 1032.6,445.3 1049.6,421.1 1066.5,403.5 1083.5,470.0 1100.5,486.5 1117.4,362.8 1134.4,323.2 1151.3,405.0 1168.3,387.2 1185.2,264.6 1202.2,210.0" fill="none" stroke="#d6616b" stroke-width="2.50" stroke-linejoin="round" stroke-linecap="square"/>
<g fill="#d6616b"><circle cx="116.8" cy="217.0" r="3.70"/><circle cx="133.7" cy="371.7" r="3.70"/><circle cx="150.7" cy="432.1" r="3.70"/><circle cx="167.7" cy="386.0" r="3.70"/><circle cx="184.6" cy="352.2" r="3.70"/><circle cx="201.6" cy="427.3" r="3.70"/><circle cx="218.5" cy="423.1" r="3.70"/><circle cx="235.5" cy="273.9" r="3.70"/><circle cx="252.4" cy="221.3" r="3.70"/><circle cx="269.4" cy="291.0" r="3.70"/><circle cx="286.4" cy="374.0" r="3.70"/><circle cx="303.3" cy="255.9" r="3.70"/><circle cx="320.3" cy="218.5" r="3.70"/><circle cx="337.2" cy="326.9" r="3.70"/><circle cx="354.2" cy="374.4" r="3.70"/><circle cx="371.2" cy="206.4" r="3.70"/><circle cx="388.1" cy="187.8" r="3.70"/><circle cx="405.1" cy="262.2" r="3.70"/><circle cx="422.1" cy="348.6" r="3.70"/><circle cx="439.0" cy="361.8" r="3.70"/><circle cx="456.0" cy="314.6" r="3.70"/><circle cx="472.9" cy="404.9" r="3.70"/><circle cx="489.9" cy="400.2" r="3.70"/><circle cx="506.9" cy="263.4" r="3.70"/><circle cx="523.8" cy="211.5" r="3.70"/><circle cx="540.8" cy="366.3" r="3.70"/><circle cx="557.7" cy="372.8" r="3.70"/><circle cx="574.7" cy="212.2" r="3.70"/><circle cx="591.6" cy="166.3" r="3.70"/><circle cx="608.6" cy="272.5" r="3.70"/><circle cx="625.6" cy="320.1" r="3.70"/><circle cx="642.5" cy="177.3" r="3.70"/><circle cx="659.5" cy="144.5" r="3.70"/><circle cx="676.5" cy="263.8" r="3.70"/><circle cx="693.4" cy="307.4" r="3.70"/><circle cx="710.4" cy="149.8" r="3.70"/><circle cx="727.3" cy="127.2" r="3.70"/><circle cx="744.3" cy="252.3" r="3.70"/><circle cx="761.2" cy="312.4" r="3.70"/><circle cx="778.2" cy="175.8" r="3.70"/><circle cx="795.2" cy="200.1" r="3.70"/><circle cx="812.1" cy="303.3" r="3.70"/><circle cx="829.1" cy="345.3" r="3.70"/><circle cx="846.1" cy="290.0" r="3.70"/><circle cx="863.0" cy="289.0" r="3.70"/><circle cx="880.0" cy="367.8" r="3.70"/><circle cx="896.9" cy="402.8" r="3.70"/><circle cx="913.9" cy="279.2" r="3.70"/><circle cx="930.9" cy="373.3" r="3.70"/><circle cx="947.8" cy="428.4" r="3.70"/><circle cx="964.8" cy="462.9" r="3.70"/><circle cx="981.7" cy="403.3" r="3.70"/><circle cx="998.7" cy="398.2" r="3.70"/><circle cx="1015.6" cy="454.8" r="3.70"/><circle cx="1032.6" cy="445.3" r="3.70"/><circle cx="1049.6" cy="421.1" r="3.70"/><circle cx="1066.5" cy="403.5" r="3.70"/><circle cx="1083.5" cy="470.0" r="3.70"/><circle cx="1100.5" cy="486.5" r="3.70"/><circle cx="1117.4" cy="362.8" r="3.70"/><circle cx="1134.4" cy="323.2" r="3.70"/><circle cx="1151.3" cy="405.0" r="3.70"/><circle cx="1168.3" cy="387.2" r="3.70"/><circle cx="1185.2" cy="264.6" r="3.70"/><circle cx="1202.2" cy="210.0" r="3.70"/></g>
<polyline points="116.8,227.5 133.7,387.8 150.7,440.8 167.7,411.0 184.6,382.0 201.6,448.4 218.5,455.9 235.5,289.4 252.4,238.5 269.4,328.3 286.4,399.5 303.3,338.3 320.3,287.8 337.2,390.1 354.2,464.2 371.2,380.0 388.1,291.7 405.1,328.1 422.1,447.2 439.0,432.0 456.0,428.2 472.9,474.8 489.9,466.9 506.9,334.3 523.8,286.7 540.8,329.4 557.7,344.3 574.7,210.5 591.6,155.6 608.6,276.3 625.6,328.6 642.5,175.0 659.5,130.6 676.5,256.7 693.4,295.2 710.4,127.2 727.3,102.3 744.3,220.0 761.2,257.3 778.2,169.1 795.2,137.1 812.1,286.1 829.1,360.6 846.1,264.4 863.0,262.7 880.0,344.2 896.9,373.0 913.9,263.8 930.9,223.7 947.8,286.5 964.8,309.9 981.7,219.9 998.7,204.8 1015.6,348.5 1032.6,425.7 1049.6,381.3 1066.5,406.3 1083.5,445.4 1100.5,483.1 1117.4,391.6 1134.4,318.0 1151.3,390.7 1168.3,437.1 1185.2,319.4 1202.2,314.6" fill="none" stroke="#e7969c" stroke-width="2.50" stroke-linejoin="round" stroke-linecap="square"/>
<g fill="#e7969c"><circle cx="116.8" cy="227.5" r="3.70"/><circle cx="133.7" cy="387.8" r="3.70"/><circle cx="150.7" cy="440.8" r="3.70"/><circle cx="167.7" cy="411.0" r="3.70"/><circle cx="184.6" cy="382.0" r="3.70"/><circle cx="201.6" cy="448.4" r="3.70"/><circle cx="218.5" cy="455.9" r="3.70"/><circle cx="235.5" cy="289.4" r="3.70"/><circle cx="252.4" cy="238.5" r="3.70"/><circle cx="269.4" cy="328.3" r="3.70"/><circle cx="286.4" cy="399.5" r="3.70"/><circle cx="303.3" cy="338.3" r="3.70"/><circle cx="320.3" cy="287.8" r="3.70"/><circle cx="337.2" cy="390.1" r="3.70"/><circle cx="354.2" cy="464.2" r="3.70"/><circle cx="371.2" cy="380.0" r="3.70"/><circle cx="388.1" cy="291.7" r="3.70"/><circle cx="405.1" cy="328.1" r="3.70"/><circle cx="422.1" cy="447.2" r="3.70"/><circle cx="439.0" cy="432.0" r="3.70"/><circle cx="456.0" cy="428.2" r="3.70"/><circle cx="472.9" cy="474.8" r="3.70"/><circle cx="489.9" cy="466.9" r="3.70"/><circle cx="506.9" cy="334.3" r="3.70"/><circle cx="523.8" cy="286.7" r="3.70"/><circle cx="540.8" cy="329.4" r="3.70"/><circle cx="557.7" cy="344.3" r="3.70"/><circle cx="574.7" cy="210.5" r="3.70"/><circle cx="591.6" cy="155.6" r="3.70"/><circle cx="608.6" cy="276.3" r="3.70"/><circle cx="625.6" cy="328.6" r="3.70"/><circle cx="642.5" cy="175.0" r="3.70"/><circle cx="659.5" cy="130.6" r="3.70"/><circle cx="676.5" cy="256.7" r="3.70"/><circle cx="693.4" cy="295.2" r="3.70"/><circle cx="710.4" cy="127.2" r="3.70"/><circle cx="727.3" cy="102.3" r="3.70"/><circle cx="744.3" cy="220.0" r="3.70"/><circle cx="761.2" cy="257.3" r="3.70"/><circle cx="778.2" cy="169.1" r="3.70"/><circle cx="795.2" cy="137.1" r="3.70"/><circle cx="812.1" cy="286.1" r="3.70"/><circle cx="829.1" cy="360.6" r="3.70"/><circle cx="846.1" cy="264.4" r="3.70"/><circle cx="863.0" cy="262.7" r="3.70"/><circle cx="880.0" cy="344.2" r="3.70"/><circle cx="896.9" cy="373.0" r="3.70"/><circle cx="913.9" cy="263.8" r="3.70"/><circle cx="930.9" cy="223.7" r="3.70"/><circle cx="947.8" cy="286.5" r="3.70"/><circle cx="964.8" cy="309.9" r="3.70"/><circle cx="981.7" cy="219.9" r="3.70"/><circle cx="998.7" cy="204.8" r="3.70"/><circle cx="1015.6" cy="348.5" r="3.70"/><circle cx="1032.6" cy="425.7" r="3.70"/><circle cx="1049.6" cy="381.3" r="3.70"/><circle cx="1066.5" cy="406.3" r="3.70"/><circle cx="1083.5" cy="445.4" r="3.70"/><circle cx="1100.5" cy="483.1" r="3.70"/><circle cx="1117.4" cy="391.6" r="3.70"/><circle cx="1134.4" cy="318.0" r="3.70"/><circle cx="1151.3" cy="390.7" r="3.70"/><circle cx="1168.3" cy="437.1" r="3.70"/><circle cx="1185.2" cy="319.4" r="3.70"/><circle cx="1202.2" cy="314.6" r="3.70"/></g>
<polyline points="116.8,218.1 133.7,367.8 150.7,435.3 167.7,378.6 184.6,359.3 201.6,417.1 218.5,421.5 235.5,272.4 252.4,225.5 269.4,310.5 286.4,374.7 303.3,294.5 320.3,239.9 337.2,332.6 354.2,372.4 371.2,231.1 388.1,190.2 405.1,278.2 422.1,398.2 439.0,413.2 456.0,420.0 472.9,477.7 489.9,482.1 506.9,323.4 523.8,285.2 540.8,390.2 557.7,402.1 574.7,236.0 591.6,205.3 608.6,318.0 625.6,359.4 642.5,195.9 659.5,158.8 676.5,264.6 693.4,298.6 710.4,150.7 727.3,131.9 744.3,256.3 761.2,300.9 778.2,163.3 795.2,169.0 812.1,283.7 829.1,342.5 846.1,233.2 863.0,221.2 880.0,350.5 896.9,409.0 913.9,384.0 930.9,344.3 947.8,370.5 964.8,383.1 981.7,247.4 998.7,191.8 1015.6,309.6 1032.6,367.1 1049.6,226.8 1066.5,183.9 1083.5,310.8 1100.5,359.9 1117.4,225.6 1134.4,163.3 1151.3,327.7 1168.3,369.5 1185.2,287.4 1202.2,266.2" fill="none" stroke="#7b4173" stroke-width="2.50" stroke-linejoin="round" stroke-linecap="square"/>
<g fill="#7b4173"><circle cx="116.8" cy="218.1" r="3.70"/><circle cx="133.7" cy="367.8" r="3.70"/><circle cx="150.7" cy="435.3" r="3.70"/><circle cx="167.7" cy="378.6" r="3.70"/><circle cx="184.6" cy="359.3" r="3.70"/><circle cx="201.6" cy="417.1" r="3.70"/><circle cx="218.5" cy="421.5" r="3.70"/><circle cx="235.5" cy="272.4" r="3.70"/><circle cx="252.4" cy="225.5" r="3.70"/><circle cx="269.4" cy="310.5" r="3.70"/><circle cx="286.4" cy="374.7" r="3.70"/><circle cx="303.3" cy="294.5" r="3.70"/><circle cx="320.3" cy="239.9" r="3.70"/><circle cx="337.2" cy="332.6" r="3.70"/><circle cx="354.2" cy="372.4" r="3.70"/><circle cx="371.2" cy="231.1" r="3.70"/><circle cx="388.1" cy="190.2" r="3.70"/><circle cx="405.1" cy="278.2" r="3.70"/><circle cx="422.1" cy="398.2" r="3.70"/><circle cx="439.0" cy="413.2" r="3.70"/><circle cx="456.0" cy="420.0" r="3.70"/><circle cx="472.9" cy="477.7" r="3.70"/><circle cx="489.9" cy="482.1" r="3.70"/><circle cx="506.9" cy="323.4" r="3.70"/><circle cx="523.8" cy="285.2" r="3.70"/><circle cx="540.8" cy="390.2" r="3.70"/><circle cx="557.7" cy="402.1" r="3.70"/><circle cx="574.7" cy="236.0" r="3.70"/><circle cx="591.6" cy="205.3" r="3.70"/><circle cx="608.6" cy="318.0" r="3.70"/><circle cx="625.6" cy="359.4" r="3.70"/><circle cx="642.5" cy="195.9" r="3.70"/><circle cx="659.5" cy="158.8" r="3.70"/><circle cx="676.5" cy="264.6" r="3.70"/><circle cx="693.4" cy="298.6" r="3.70"/><circle cx="710.4" cy="150.7" r="3.70"/><circle cx="727.3" cy="131.9" r="3.70"/><circle cx="744.3" cy="256.3" r="3.70"/><circle cx="761.2" cy="300.9" r="3.70"/><circle cx="778.2" cy="163.3" r="3.70"/><circle cx="795.2" cy="169.0" r="3.70"/><circle cx="812.1" cy="283.7" r="3.70"/><circle cx="829.1" cy="342.5" r="3.70"/><circle cx="846.1" cy="233.2" r="3.70"/><circle cx="863.0" cy="221.2" r="3.70"/><circle cx="880.0" cy="350.5" r="3.70"/><circle cx="896.9" cy="409.0" r="3.70"/><circle cx="913.9" cy="384.0" r="3.70"/><circle cx="930.9" cy="344.3" r="3.70"/><circle cx="947.8" cy="370.5" r="3.70"/><circle cx="964.8" cy="383.1" r="3.70"/><circle cx="981.7" cy="247.4" r="3.70"/><circle cx="998.7" cy="191.8" r="3.70"/><circle cx="1015.6" cy="309.6" r="3.70"/><circle cx="1032.6" cy="367.1" r="3.70"/><circle cx="1049.6" cy="226.8" r="3.70"/><circle cx="1066.5" cy="183.9" r="3.70"/><circle cx="1083.5" cy="310.8" r="3.70"/><circle cx="1100.5" cy="359.9" r="3.70"/><circle cx="1117.4" cy="225.6" r="3.70"/><circle cx="1134.4" cy="163.3" r="3.70"/><circle cx="1151.3" cy="327.7" r="3.70"/><circle cx="1168.3" cy="369.5" r="3.70"/><circle cx="1185.2" cy="287.4" r="3.70"/><circle cx="1202.2" cy="266.2" r="3.70"/></g>
<polyline points="116.8,219.1 133.7,368.6 150.7,433.5 167.7,388.8 184.6,358.6 201.6,427.1 218.5,422.2 235.5,272.8 252.4,224.6 269.4,300.8 286.4,367.4 303.3,285.1 320.3,224.5 337.2,320.7 354.2,372.1 371.2,219.6 388.1,188.3 405.1,267.6 422.1,359.5 439.0,387.0 456.0,386.1 472.9,446.6 489.9,473.7 506.9,325.1 523.8,295.0 540.8,353.0 557.7,371.5 574.7,208.5 591.6,181.4 608.6,300.9 625.6,332.9 642.5,221.3 659.5,166.7 676.5,277.0 693.4,307.7 710.4,158.0 727.3,123.9 744.3,252.7 761.2,307.9 778.2,177.4 795.2,163.6 812.1,289.3 829.1,352.6 846.1,283.6 863.0,231.6 880.0,317.3 896.9,356.0 913.9,200.8 930.9,156.2 947.8,267.7 964.8,364.9 981.7,139.4 998.7,137.6 1015.6,313.4 1032.6,382.6 1049.6,278.3 1066.5,326.8 1083.5,358.5 1100.5,386.1 1117.4,332.8 1134.4,213.1 1151.3,338.5 1168.3,371.5 1185.2,166.8 1202.2,163.8" fill="none" stroke="#a55194" stroke-width="2.50" stroke-linejoin="round" stroke-linecap="square"/>
<g fill="#a55194"><circle cx="116.8" cy="219.1" r="3.70"/><circle cx="133.7" cy="368.6" r="3.70"/><circle cx="150.7" cy="433.5" r="3.70"/><circle cx="167.7" cy="388.8" r="3.70"/><circle cx="184.6" cy="358.6" r="3.70"/><circle cx="201.6" cy="427.1" r="3.70"/><circle cx="218.5" cy="422.2" r="3.70"/><circle cx="235.5" cy="272.8" r="3.70"/><circle cx="252.4" cy="224.6" r="3.70"/><circle cx="269.4" cy="300.8" r="3.70"/><circle cx="286.4" cy="367.4" r="3.70"/><circle cx="303.3" cy="285.1" r="3.70"/><circle cx="320.3" cy="224.5" r="3.70"/><circle cx="337.2" cy="320.7" r="3.70"/><circle cx="354.2" cy="372.1" r="3.70"/><circle cx="371.2" cy="219.6" r="3.70"/><circle cx="388.1" cy="188.3" r="3.70"/><circle cx="405.1" cy="267.6" r="3.70"/><circle cx="422.1" cy="359.5" r="3.70"/><circle cx="439.0" cy="387.0" r="3.70"/><circle cx="456.0" cy="386.1" r="3.70"/><circle cx="472.9" cy="446.6" r="3.70"/><circle cx="489.9" cy="473.7" r="3.70"/><circle cx="506.9" cy="325.1" r="3.70"/><circle cx="523.8" cy="295.0" r="3.70"/><circle cx="540.8" cy="353.0" r="3.70"/><circle cx="557.7" cy="371.5" r="3.70"/><circle cx="574.7" cy="208.5" r="3.70"/><circle cx="591.6" cy="181.4" r="3.70"/><circle cx="608.6" cy="300.9" r="3.70"/><circle cx="625.6" cy="332.9" r="3.70"/><circle cx="642.5" cy="221.3" r="3.70"/><circle cx="659.5" cy="166.7" r="3.70"/><circle cx="676.5" cy="277.0" r="3.70"/><circle cx="693.4" cy="307.7" r="3.70"/><circle cx="710.4" cy="158.0" r="3.70"/><circle cx="727.3" cy="123.9" r="3.70"/><circle cx="744.3" cy="252.7" r="3.70"/><circle cx="761.2" cy="307.9" r="3.70"/><circle cx="778.2" cy="177.4" r="3.70"/><circle cx="795.2" cy="163.6" r="3.70"/><circle cx="812.1" cy="289.3" r="3.70"/><circle cx="829.1" cy="352.6" r="3.70"/><circle cx="846.1" cy="283.6" r="3.70"/><circle cx="863.0" cy="231.6" r="3.70"/><circle cx="880.0" cy="317.3" r="3.70"/><circle cx="896.9" cy="356.0" r="3.70"/><circle cx="913.9" cy="200.8" r="3.70"/><circle cx="930.9" cy="156.2" r="3.70"/><circle cx="947.8" cy="267.7" r="3.70"/><circle cx="964.8" cy="364.9" r="3.70"/><circle cx="981.7" cy="139.4" r="3.70"/><circle cx="998.7" cy="137.6" r="3.70"/><circle cx="1015.6" cy="313.4" r="3.70"/><circle cx="1032.6" cy="382.6" r="3.70"/><circle cx="1049.6" cy="278.3" r="3.70"/><circle cx="1066.5" cy="326.8" r="3.70"/><circle cx="1083.5" cy="358.5" r="3.70"/><circle cx="1100.5" cy="386.1" r="3.70"/><circle cx="1117.4" cy="332.8" r="3.70"/><circle cx="1134.4" cy="213.1" r="3.70"/><circle cx="1151.3" cy="338.5" r="3.70"/><circle cx="1168.3" cy="371.5" r="3.70"/><circle cx="1185.2" cy="166.8" r="3.70"/><circle cx="1202.2" cy="163.8" r="3.70"/></g>
<polyline points="116.8,228.0 133.7,398.8 150.7,446.7 167.7,423.8 184.6,409.7 201.6,462.2 218.5,422.5 235.5,268.3 252.4,221.2 269.4,298.0 286.4,371.2 303.3,227.0 320.3,207.2 337.2,309.9 354.2,362.5 371.2,207.2 388.1,187.6 405.1,264.0 422.1,364.5 439.0,375.3 456.0,306.5 472.9,384.7 489.9,384.7 506.9,241.2 523.8,198.7 540.8,317.3 557.7,341.6 574.7,187.2 591.6,171.1 608.6,289.3 625.6,335.8 642.5,184.9 659.5,157.1 676.5,275.7 693.4,322.6 710.4,192.4 727.3,142.2 744.3,240.3 761.2,286.9 778.2,134.7 795.2,116.5 812.1,223.0 829.1,256.7 846.1,246.5 863.0,189.3 880.0,316.8 896.9,409.7 913.9,322.7 930.9,314.5 947.8,381.6 964.8,413.0 981.7,321.8 998.7,341.2 1015.6,420.9 1032.6,436.2 1049.6,339.8 1066.5,244.9 1083.5,303.8 1100.5,303.2 1117.4,150.8 1134.4,143.4 1151.3,330.9 1168.3,377.2 1185.2,278.4 1202.2,292.7" fill="none" stroke="#ce6dbd" stroke-width="2.50" stroke-linejoin="round" stroke-linecap="square"/>
<g fill="#ce6dbd"><circle cx="116.8" cy="228.0" r="3.70"/><circle cx="133.7" cy="398.8" r="3.70"/><circle cx="150.7" cy="446.7" r="3.70"/><circle cx="167.7" cy="423.8" r="3.70"/><circle cx="184.6" cy="409.7" r="3.70"/><circle cx="201.6" cy="462.2" r="3.70"/><circle cx="218.5" cy="422.5" r="3.70"/><circle cx="235.5" cy="268.3" r="3.70"/><circle cx="252.4" cy="221.2" r="3.70"/><circle cx="269.4" cy="298.0" r="3.70"/><circle cx="286.4" cy="371.2" r="3.70"/><circle cx="303.3" cy="227.0" r="3.70"/><circle cx="320.3" cy="207.2" r="3.70"/><circle cx="337.2" cy="309.9" r="3.70"/><circle cx="354.2" cy="362.5" r="3.70"/><circle cx="371.2" cy="207.2" r="3.70"/><circle cx="388.1" cy="187.6" r="3.70"/><circle cx="405.1" cy="264.0" r="3.70"/><circle cx="422.1" cy="364.5" r="3.70"/><circle cx="439.0" cy="375.3" r="3.70"/><circle cx="456.0" cy="306.5" r="3.70"/><circle cx="472.9" cy="384.7" r="3.70"/><circle cx="489.9" cy="384.7" r="3.70"/><circle cx="506.9" cy="241.2" r="3.70"/><circle cx="523.8" cy="198.7" r="3.70"/><circle cx="540.8" cy="317.3" r="3.70"/><circle cx="557.7" cy="341.6" r="3.70"/><circle cx="574.7" cy="187.2" r="3.70"/><circle cx="591.6" cy="171.1" r="3.70"/><circle cx="608.6" cy="289.3" r="3.70"/><circle cx="625.6" cy="335.8" r="3.70"/><circle cx="642.5" cy="184.9" r="3.70"/><circle cx="659.5" cy="157.1" r="3.70"/><circle cx="676.5" cy="275.7" r="3.70"/><circle cx="693.4" cy="322.6" r="3.70"/><circle cx="710.4" cy="192.4" r="3.70"/><circle cx="727.3" cy="142.2" r="3.70"/><circle cx="744.3" cy="240.3" r="3.70"/><circle cx="761.2" cy="286.9" r="3.70"/><circle cx="778.2" cy="134.7" r="3.70"/><circle cx="795.2" cy="116.5" r="3.70"/><circle cx="812.1" cy="223.0" r="3.70"/><circle cx="829.1" cy="256.7" r="3.70"/><circle cx="846.1" cy="246.5" r="3.70"/><circle cx="863.0" cy="189.3" r="3.70"/><circle cx="880.0" cy="316.8" r="3.70"/><circle cx="896.9" cy="409.7" r="3.70"/><circle cx="913.9" cy="322.7" r="3.70"/><circle cx="930.9" cy="314.5" r="3.70"/><circle cx="947.8" cy="381.6" r="3.70"/><circle cx="964.8" cy="413.0" r="3.70"/><circle cx="981.7" cy="321.8" r="3.70"/><circle cx="998.7" cy="341.2" r="3.70"/><circle cx="1015.6" cy="420.9" r="3.70"/><circle cx="1032.6" cy="436.2" r="3.70"/><circle cx="1049.6" cy="339.8" r="3.70"/><circle cx="1066.5" cy="244.9" r="3.70"/><circle cx="1083.5" cy="303.8" r="3.70"/><circle cx="1100.5" cy="303.2" r="3.70"/><circle cx="1117.4" cy="150.8" r="3.70"/><circle cx="1134.4" cy="143.4" r="3.70"/><circle cx="1151.3" cy="330.9" r="3.70"/><circle cx="1168.3" cy="377.2" r="3.70"/><circle cx="1185.2" cy="278.4" r="3.70"/><circle cx="1202.2" cy="292.7" r="3.70"/></g>
<polyline points="116.8,223.5 133.7,380.6 150.7,437.6 167.7,400.5 184.6,365.5 201.6,433.9 218.5,437.9 235.5,282.3 252.4,237.9 269.4,330.3 286.4,398.7 303.3,325.1 320.3,290.4 337.2,397.5 354.2,413.7 371.2,285.0 388.1,221.9 405.1,333.5 422.1,455.6 439.0,464.9 456.0,466.4 472.9,519.7 489.9,538.3 506.9,412.3 523.8,352.2 540.8,431.2 557.7,439.1 574.7,259.3 591.6,223.7 608.6,328.7 625.6,375.7 642.5,235.2 659.5,196.3 676.5,315.2 693.4,358.5 710.4,224.4 727.3,199.6 744.3,301.4 761.2,342.9 778.2,214.7 795.2,207.5 812.1,312.4 829.1,357.6 846.1,270.7 863.0,220.7 880.0,293.9 896.9,299.1 913.9,138.0 930.9,147.5 947.8,265.2 964.8,357.7 981.7,130.6 998.7,117.8 1015.6,325.7 1032.6,314.6 1049.6,256.4 1066.5,295.5 1083.5,391.5 1100.5,413.0 1117.4,364.9 1134.4,356.4 1151.3,473.7 1168.3,463.2 1185.2,351.2 1202.2,288.2" fill="none" stroke="#de9ed6" stroke-width="2.50" stroke-linejoin="round" stroke-linecap="square"/>
<g fill="#de9ed6"><circle cx="116.8" cy="223.5" r="3.70"/><circle cx="133.7" cy="380.6" r="3.70"/><circle cx="150.7" cy="437.6" r="3.70"/><circle cx="167.7" cy="400.5" r="3.70"/><circle cx="184.6" cy="365.5" r="3.70"/><circle cx="201.6" cy="433.9" r="3.70"/><circle cx="218.5" cy="437.9" r="3.70"/><circle cx="235.5" cy="282.3" r="3.70"/><circle cx="252.4" cy="237.9" r="3.70"/><circle cx="269.4" cy="330.3" r="3.70"/><circle cx="286.4" cy="398.7" r="3.70"/><circle cx="303.3" cy="325.1" r="3.70"/><circle cx="320.3" cy="290.4" r="3.70"/><circle cx="337.2" cy="397.5" r="3.70"/><circle cx="354.2" cy="413.7" r="3.70"/><circle cx="371.2" cy="285.0" r="3.70"/><circle cx="388.1" cy="221.9" r="3.70"/><circle cx="405.1" cy="333.5" r="3.70"/><circle cx="422.1" cy="455.6" r="3.70"/><circle cx="439.0" cy="464.9" r="3.70"/><circle cx="456.0" cy="466.4" r="3.70"/><circle cx="472.9" cy="519.7" r="3.70"/><circle cx="489.9" cy="538.3" r="3.70"/><circle cx="506.9" cy="412.3" r="3.70"/><circle cx="523.8" cy="352.2" r="3.70"/><circle cx="540.8" cy="431.2" r="3.70"/><circle cx="557.7" cy="439.1" r="3.70"/><circle cx="574.7" cy="259.3" r="3.70"/><circle cx="591.6" cy="223.7" r="3.70"/><circle cx="608.6" cy="328.7" r="3.70"/><circle cx="625.6" cy="375.7" r="3.70"/><circle cx="642.5" cy="235.2" r="3.70"/><circle cx="659.5" cy="196.3" r="3.70"/><circle cx="676.5" cy="315.2" r="3.70"/><circle cx="693.4" cy="358.5" r="3.70"/><circle cx="710.4" cy="224.4" r="3.70"/><circle cx="727.3" cy="199.6" r="3.70"/><circle cx="744.3" cy="301.4" r="3.70"/><circle cx="761.2" cy="342.9" r="3.70"/><circle cx="778.2" cy="214.7" r="3.70"/><circle cx="795.2" cy="207.5" r="3.70"/><circle cx="812.1" cy="312.4" r="3.70"/><circle cx="829.1" cy="357.6" r="3.70"/><circle cx="846.1" cy="270.7" r="3.70"/><circle cx="863.0" cy="220.7" r="3.70"/><circle cx="880.0" cy="293.9" r="3.70"/><circle cx="896.9" cy="299.1" r="3.70"/><circle cx="913.9" cy="138.0" r="3.70"/><circle cx="930.9" cy="147.5" r="3.70"/><circle cx="947.8" cy="265.2" r="3.70"/><circle cx="964.8" cy="357.7" r="3.70"/><circle cx="981.7" cy="130.6" r="3.70"/><circle cx="998.7" cy="117.8" r="3.70"/><circle cx="1015.6" cy="325.7" r="3.70"/><circle cx="1032.6" cy="314.6" r="3.70"/><circle cx="1049.6" cy="256.4" r="3.70"/><circle cx="1066.5" cy="295.5" r="3.70"/><circle cx="1083.5" cy="391.5" r="3.70"/><circle cx="1100.5" cy="413.0" r="3.70"/><circle cx="1117.4" cy="364.9" r="3.70"/><circle cx="1134.4" cy="356.4" r="3.70"/><circle cx="1151.3" cy="473.7" r="3.70"/><circle cx="1168.3" cy="463.2" r="3.70"/><circle cx="1185.2" cy="351.2" r="3.70"/><circle cx="1202.2" cy="288.2" r="3.70"/></g>
<polyline points="116.8,214.9 133.7,370.0 150.7,434.9 167.7,390.8 184.6,357.9 201.6,433.9 218.5,440.2 235.5,284.7 252.4,232.6 269.4,319.8 286.4,389.6 303.3,331.6 320.3,266.1 337.2,367.0 354.2,407.9 371.2,272.2 388.1,219.9 405.1,306.2 422.1,416.3 439.0,432.8 456.0,441.4 472.9,502.7 489.9,534.9 506.9,434.9 523.8,355.5 540.8,424.4 557.7,424.2 574.7,240.1 591.6,201.9 608.6,298.0 625.6,354.5 642.5,207.4 659.5,153.1 676.5,274.0 693.4,312.2 710.4,169.3 727.3,129.4 744.3,228.9 761.2,275.5 778.2,149.4 795.2,137.4 812.1,247.7 829.1,277.1 846.1,239.1 863.0,173.5 880.0,213.5 896.9,267.4 913.9,192.6 930.9,193.7 947.8,335.5 964.8,404.3 981.7,359.1 998.7,357.9 1015.6,419.1 1032.6,435.9 1049.6,312.8 1066.5,215.5 1083.5,333.5 1100.5,362.9 1117.4,268.5 1134.4,205.6 1151.3,323.2 1168.3,360.5 1185.2,194.3 1202.2,171.9" fill="none" stroke="#3182bd" stroke-width="2.50" stroke-linejoin="round" stroke-linecap="square"/>
<g fill="#3182bd"><circle cx="116.8" cy="214.9" r="3.70"/><circle cx="133.7" cy="370.0" r="3.70"/><circle cx="150.7" cy="434.9" r="3.70"/><circle cx="167.7" cy="390.8" r="3.70"/><circle cx="184.6" cy="357.9" r="3.70"/><circle cx="201.6" cy="433.9" r="3.70"/><circle cx="218.5" cy="440.2" r="3.70"/><circle cx="235.5" cy="284.7" r="3.70"/><circle cx="252.4" cy="232.6" r="3.70"/><circle cx="269.4" cy="319.8" r="3.70"/><circle cx="286.4" cy="389.6" r="3.70"/><circle cx="303.3" cy="331.6" r="3.70"/><circle cx="320.3" cy="266.1" r="3.70"/><circle cx="337.2" cy="367.0" r="3.70"/><circle cx="354.2" cy="407.9" r="3.70"/><circle cx="371.2" cy="272.2" r="3.70"/><circle cx="388.1" cy="219.9" r="3.70"/><circle cx="405.1" cy="306.2" r="3.70"/><circle cx="422.1" cy="416.3" r="3.70"/><circle cx="439.0" cy="432.8" r="3.70"/><circle cx="456.0" cy="441.4" r="3.70"/><circle cx="472.9" cy="502.7" r="3.70"/><circle cx="489.9" cy="534.9" r="3.70"/><circle cx="506.9" cy="434.9" r="3.70"/><circle cx="523.8" cy="355.5" r="3.70"/><circle cx="540.8" cy="424.4" r="3.70"/><circle cx="557.7" cy="424.2" r="3.70"/><circle cx="574.7" cy="240.1" r="3.70"/><circle cx="591.6" cy="201.9" r="3.70"/><circle cx="608.6" cy="298.0" r="3.70"/><circle cx="625.6" cy="354.5" r="3.70"/><circle cx="642.5" cy="207.4" r="3.70"/><circle cx="659.5" cy="153.1" r="3.70"/><circle cx="676.5" cy="274.0" r="3.70"/><circle cx="693.4" cy="312.2" r="3.70"/><circle cx="710.4" cy="169.3" r="3.70"/><circle cx="727.3" cy="129.4" r="3.70"/><circle cx="744.3" cy="228.9" r="3.70"/><circle cx="761.2" cy="275.5" r="3.70"/><circle cx="778.2" cy="149.4" r="3.70"/><circle cx="795.2" cy="137.4" r="3.70"/><circle cx="812.1" cy="247.7" r="3.70"/><circle cx="829.1" cy="277.1" r="3.70"/><circle cx="846.1" cy="239.1" r="3.70"/><circle cx="863.0" cy="173.5" r="3.70"/><circle cx="880.0" cy="213.5" r="3.70"/><circle cx="896.9" cy="267.4" r="3.70"/><circle cx="913.9" cy="192.6" r="3.70"/><circle cx="930.9" cy="193.7" r="3.70"/><circle cx="947.8" cy="335.5" r="3.70"/><circle cx="964.8" cy="404.3" r="3.70"/><circle cx="981.7" cy="359.1" r="3.70"/><circle cx="998.7" cy="357.9" r="3.70"/><circle cx="1015.6" cy="419.1" r="3.70"/><circle cx="1032.6" cy="435.9" r="3.70"/><circle cx="1049.6" cy="312.8" r="3.70"/><circle cx="1066.5" cy="215.5" r="3.70"/><circle cx="1083.5" cy="333.5" r="3.70"/><circle cx="1100.5" cy="362.9" r="3.70"/><circle cx="1117.4" cy="268.5" r="3.70"/><circle cx="1134.4" cy="205.6" r="3.70"/><circle cx="1151.3" cy="323.2" r="3.70"/><circle cx="1168.3" cy="360.5" r="3.70"/><circle cx="1185.2" cy="194.3" r="3.70"/><circle cx="1202.2" cy="171.9" r="3.70"/></g>
<polyline points="116.8,222.4 133.7,389.5 150.7,441.5 167.7,411.3 184.6,388.1 201.6,451.5 218.5,450.0 235.5,293.8 252.4,236.1 269.4,332.3 286.4,395.8 303.3,323.4 320.3,279.0 337.2,368.1 354.2,396.8 371.2,252.7 388.1,217.5 405.1,310.2 422.1,442.7 439.0,450.6 456.0,475.9 472.9,554.6 489.9,566.7 506.9,442.2 523.8,396.8 540.8,484.1 557.7,490.5 574.7,307.2 591.6,271.5 608.6,385.4 625.6,398.5 642.5,275.1 659.5,233.3 676.5,319.8 693.4,352.5 710.4,237.8 727.3,208.8 744.3,302.9 761.2,346.5 778.2,275.0 795.2,241.9 812.1,339.1 829.1,374.6 846.1,181.8 863.0,162.3 880.0,260.7 896.9,295.5 913.9,173.0 930.9,140.1 947.8,257.9 964.8,349.4 981.7,171.2 998.7,131.3 1015.6,306.4 1032.6,372.6 1049.6,255.3 1066.5,218.0 1083.5,327.8 1100.5,286.3 1117.4,188.6 1134.4,169.7 1151.3,323.1 1168.3,446.7 1185.2,295.9 1202.2,209.8" fill="none" stroke="#6baed6" stroke-width="2.50" stroke-linejoin="round" stroke-linecap="square"/>
<g fill="#6baed6"><circle cx="116.8" cy="222.4" r="3.70"/><circle cx="133.7" cy="389.5" r="3.70"/><circle cx="150.7" cy="441.5" r="3.70"/><circle cx="167.7" cy="411.3" r="3.70"/><circle cx="184.6" cy="388.1" r="3.70"/><circle cx="201.6" cy="451.5" r="3.70"/><circle cx="218.5" cy="450.0" r="3.70"/><circle cx="235.5" cy="293.8" r="3.70"/><circle cx="252.4" cy="236.1" r="3.70"/><circle cx="269.4" cy="332.3" r="3.70"/><circle cx="286.4" cy="395.8" r="3.70"/><circle cx="303.3" cy="323.4" r="3.70"/><circle cx="320.3" cy="279.0" r="3.70"/><circle cx="337.2" cy="368.1" r="3.70"/><circle cx="354.2" cy="396.8" r="3.70"/><circle cx="371.2" cy="252.7" r="3.70"/><circle cx="388.1" cy="217.5" r="3.70"/><circle cx="405.1" cy="310.2" r="3.70"/><circle cx="422.1" cy="442.7" r="3.70"/><circle cx="439.0" cy="450.6" r="3.70"/><circle cx="456.0" cy="475.9" r="3.70"/><circle cx="472.9" cy="554.6" r="3.70"/><circle cx="489.9" cy="566.7" r="3.70"/><circle cx="506.9" cy="442.2" r="3.70"/><circle cx="523.8" cy="396.8" r="3.70"/><circle cx="540.8" cy="484.1" r="3.70"/><circle cx="557.7" cy="490.5" r="3.70"/><circle cx="574.7" cy="307.2" r="3.70"/><circle cx="591.6" cy="271.5" r="3.70"/><circle cx="608.6" cy="385.4" r="3.70"/><circle cx="625.6" cy="398.5" r="3.70"/><circle cx="642.5" cy="275.1" r="3.70"/><circle cx="659.5" cy="233.3" r="3.70"/><circle cx="676.5" cy="319.8" r="3.70"/><circle cx="693.4" cy="352.5" r="3.70"/><circle cx="710.4" cy="237.8" r="3.70"/><circle cx="727.3" cy="208.8" r="3.70"/><circle cx="744.3" cy="302.9" r="3.70"/><circle cx="761.2" cy="346.5" r="3.70"/><circle cx="778.2" cy="275.0" r="3.70"/><circle cx="795.2" cy="241.9" r="3.70"/><circle cx="812.1" cy="339.1" r="3.70"/><circle cx="829.1" cy="374.6" r="3.70"/><circle cx="846.1" cy="181.8" r="3.70"/><circle cx="863.0" cy="162.3" r="3.70"/><circle cx="880.0" cy="260.7" r="3.70"/><circle cx="896.9" cy="295.5" r="3.70"/><circle cx="913.9" cy="173.0" r="3.70"/><circle cx="930.9" cy="140.1" r="3.70"/><circle cx="947.8" cy="257.9" r="3.70"/><circle cx="964.8" cy="349.4" r="3.70"/><circle cx="981.7" cy="171.2" r="3.70"/><circle cx="998.7" cy="131.3" r="3.70"/><circle cx="1015.6" cy="306.4" r="3.70"/><circle cx="1032.6" cy="372.6" r="3.70"/><circle cx="1049.6" cy="255.3" r="3.70"/><circle cx="1066.5" cy="218.0" r="3.70"/><circle cx="1083.5" cy="327.8" r="3.70"/><circle cx="1100.5" cy="286.3" r="3.70"/><circle cx="1117.4" cy="188.6" r="3.70"/><circle cx="1134.4" cy="169.7" r="3.70"/><circle cx="1151.3" cy="323.1" r="3.70"/><circle cx="1168.3" cy="446.7" r="3.70"/><circle cx="1185.2" cy="295.9" r="3.70"/><circle cx="1202.2" cy="209.8" r="3.70"/></g>
<polyline points="116.8,224.5 133.7,382.0 150.7,437.4 167.7,401.3 184.6,367.1 201.6,426.2 218.5,435.3 235.5,278.3 252.4,227.2 269.4,299.9 286.4,368.7 303.3,273.6 320.3,213.5 337.2,326.8 354.2,372.9 371.2,236.5 388.1,202.9 405.1,309.0 422.1,459.5 439.0,469.6 456.0,486.8 472.9,521.4 489.9,514.2 506.9,353.7 523.8,267.4 540.8,362.5 557.7,375.8 574.7,218.3 591.6,194.9 608.6,307.1 625.6,340.4 642.5,186.9 659.5,134.7 676.5,269.5 693.4,306.0 710.4,146.1 727.3,111.1 744.3,206.1 761.2,315.0 778.2,292.4 795.2,311.2 812.1,409.3 829.1,453.5 846.1,318.7 863.0,227.7 880.0,281.8 896.9,306.3 913.9,177.8 930.9,177.1 947.8,264.1 964.8,353.5 981.7,194.3 998.7,160.3 1015.6,280.2 1032.6,385.4 1049.6,225.3 1066.5,223.0 1083.5,367.1 1100.5,453.8 1117.4,352.4 1134.4,293.1 1151.3,395.9 1168.3,460.5 1185.2,353.6 1202.2,337.6" fill="none" stroke="#9ecae1" stroke-width="2.50" stroke-linejoin="round" stroke-linecap="square"/>
<g fill="#9ecae1"><circle cx="116.8" cy="224.5" r="3.70"/><circle cx="133.7" cy="382.0" r="3.70"/><circle cx="150.7" cy="437.4" r="3.70"/><circle cx="167.7" cy="401.3" r="3.70"/><circle cx="184.6" cy="367.1" r="3.70"/><circle cx="201.6" cy="426.2" r="3.70"/><circle cx="218.5" cy="435.3" r="3.70"/><circle cx="235.5" cy="278.3" r="3.70"/><circle cx="252.4" cy="227.2" r="3.70"/><circle cx="269.4" cy="299.9" r="3.70"/><circle cx="286.4" cy="368.7" r="3.70"/><circle cx="303.3" cy="273.6" r="3.70"/><circle cx="320.3" cy="213.5" r="3.70"/><circle cx="337.2" cy="326.8" r="3.70"/><circle cx="354.2" cy="372.9" r="3.70"/><circle cx="371.2" cy="236.5" r="3.70"/><circle cx="388.1" cy="202.9" r="3.70"/><circle cx="405.1" cy="309.0" r="3.70"/><circle cx="422.1" cy="459.5" r="3.70"/><circle cx="439.0" cy="469.6" r="3.70"/><circle cx="456.0" cy="486.8" r="3.70"/><circle cx="472.9" cy="521.4" r="3.70"/><circle cx="489.9" cy="514.2" r="3.70"/><circle cx="506.9" cy="353.7" r="3.70"/><circle cx="523.8" cy="267.4" r="3.70"/><circle cx="540.8" cy="362.5" r="3.70"/><circle cx="557.7" cy="375.8" r="3.70"/><circle cx="574.7" cy="218.3" r="3.70"/><circle cx="591.6" cy="194.9" r="3.70"/><circle cx="608.6" cy="307.1" r="3.70"/><circle cx="625.6" cy="340.4" r="3.70"/><circle cx="642.5" cy="186.9" r="3.70"/><circle cx="659.5" cy="134.7" r="3.70"/><circle cx="676.5" cy="269.5" r="3.70"/><circle cx="693.4" cy="306.0" r="3.70"/><circle cx="710.4" cy="146.1" r="3.70"/><circle cx="727.3" cy="111.1" r="3.70"/><circle cx="744.3" cy="206.1" r="3.70"/><circle cx="761.2" cy="315.0" r="3.70"/><circle cx="778.2" cy="292.4" r="3.70"/><circle cx="795.2" cy="311.2" r="3.70"/><circle cx="812.1" cy="409.3" r="3.70"/><circle cx="829.1" cy="453.5" r="3.70"/><circle cx="846.1" cy="318.7" r="3.70"/><circle cx="863.0" cy="227.7" r="3.70"/><circle cx="880.0" cy="281.8" r="3.70"/><circle cx="896.9" cy="306.3" r="3.70"/><circle cx="913.9" cy="177.8" r="3.70"/><circle cx="930.9" cy="177.1" r="3.70"/><circle cx="947.8" cy="264.1" r="3.70"/><circle cx="964.8" cy="353.5" r="3.70"/><circle cx="981.7" cy="194.3" r="3.70"/><circle cx="998.7" cy="160.3" r="3.70"/><circle cx="1015.6" cy="280.2" r="3.70"/><circle cx="1032.6" cy="385.4" r="3.70"/><circle cx="1049.6" cy="225.3" r="3.70"/><circle cx="1066.5" cy="223.0" r="3.70"/><circle cx="1083.5" cy="367.1" r="3.70"/><circle cx="1100.5" cy="453.8" r="3.70"/><circle cx="1117.4" cy="352.4" r="3.70"/><circle cx="1134.4" cy="293.1" r="3.70"/><circle cx="1151.3" cy="395.9" r="3.70"/><circle cx="1168.3" cy="460.5" r="3.70"/><circle cx="1185.2" cy="353.6" r="3.70"/><circle cx="1202.2" cy="337.6" r="3.70"/></g>
<polyline points="116.8,230.1 133.7,388.4 150.7,441.0 167.7,417.0 184.6,388.5 201.6,450.8 218.5,456.0 235.5,290.9 252.4,236.5 269.4,325.3 286.4,400.0 303.3,348.3 320.3,288.1 337.2,370.3 354.2,412.1 371.2,266.4 388.1,218.5 405.1,312.6 422.1,464.2 439.0,421.7 456.0,401.9 472.9,459.5 489.9,460.2 506.9,327.1 523.8,268.9 540.8,358.7 557.7,363.9 574.7,213.5 591.6,169.7 608.6,276.0 625.6,320.2 642.5,178.0 659.5,160.7 676.5,265.2 693.4,311.4 710.4,158.3 727.3,127.6 744.3,243.2 761.2,284.4 778.2,148.9 795.2,150.2 812.1,295.2 829.1,351.8 846.1,246.2 863.0,283.8 880.0,395.8 896.9,420.5 913.9,307.2 930.9,285.5 947.8,352.2 964.8,385.4 981.7,261.4 998.7,225.7 1015.6,326.2 1032.6,377.8 1049.6,240.7 1066.5,224.3 1083.5,309.6 1100.5,342.5 1117.4,176.7 1134.4,159.5 1151.3,335.3 1168.3,366.8 1185.2,158.9 1202.2,123.2" fill="none" stroke="#c6dbef" stroke-width="2.50" stroke-linejoin="round" stroke-linecap="square"/>
<g fill="#c6dbef"><circle cx="116.8" cy="230.1" r="3.70"/><circle cx="133.7" cy="388.4" r="3.70"/><circle cx="150.7" cy="441.0" r="3.70"/><circle cx="167.7" cy="417.0" r="3.70"/><circle cx="184.6" cy="388.5" r="3.70"/><circle cx="201.6" cy="450.8" r="3.70"/><circle cx="218.5" cy="456.0" r="3.70"/><circle cx="235.5" cy="290.9" r="3.70"/><circle cx="252.4" cy="236.5" r="3.70"/><circle cx="269.4" cy="325.3" r="3.70"/><circle cx="286.4" cy="400.0" r="3.70"/><circle cx="303.3" cy="348.3" r="3.70"/><circle cx="320.3" cy="288.1" r="3.70"/><circle cx="337.2" cy="370.3" r="3.70"/><circle cx="354.2" cy="412.1" r="3.70"/><circle cx="371.2" cy="266.4" r="3.70"/><circle cx="388.1" cy="218.5" r="3.70"/><circle cx="405.1" cy="312.6" r="3.70"/><circle cx="422.1" cy="464.2" r="3.70"/><circle cx="439.0" cy="421.7" r="3.70"/><circle cx="456.0" cy="401.9" r="3.70"/><circle cx="472.9" cy="459.5" r="3.70"/><circle cx="489.9" cy="460.2" r="3.70"/><circle cx="506.9" cy="327.1" r="3.70"/><circle cx="523.8" cy="268.9" r="3.70"/><circle cx="540.8" cy="358.7" r="3.70"/><circle cx="557.7" cy="363.9" r="3.70"/><circle cx="574.7" cy="213.5" r="3.70"/><circle cx="591.6" cy="169.7" r="3.70"/><circle cx="608.6" cy="276.0" r="3.70"/><circle cx="625.6" cy="320.2" r="3.70"/><circle cx="642.5" cy="178.0" r="3.70"/><circle cx="659.5" cy="160.7" r="3.70"/><circle cx="676.5" cy="265.2" r="3.70"/><circle cx="693.4" cy="311.4" r="3.70"/><circle cx="710.4" cy="158.3" r="3.70"/><circle cx="727.3" cy="127.6" r="3.70"/><circle cx="744.3" cy="243.2" r="3.70"/><circle cx="761.2" cy="284.4" r="3.70"/><circle cx="778.2" cy="148.9" r="3.70"/><circle cx="795.2" cy="150.2" r="3.70"/><circle cx="812.1" cy="295.2" r="3.70"/><circle cx="829.1" cy="351.8" r="3.70"/><circle cx="846.1" cy="246.2" r="3.70"/><circle cx="863.0" cy="283.8" r="3.70"/><circle cx="880.0" cy="395.8" r="3.70"/><circle cx="896.9" cy="420.5" r="3.70"/><circle cx="913.9" cy="307.2" r="3.70"/><circle cx="930.9" cy="285.5" r="3.70"/><circle cx="947.8" cy="352.2" r="3.70"/><circle cx="964.8" cy="385.4" r="3.70"/><circle cx="981.7" cy="261.4" r="3.70"/><circle cx="998.7" cy="225.7" r="3.70"/><circle cx="1015.6" cy="326.2" r="3.70"/><circle cx="1032.6" cy="377.8" r="3.70"/><circle cx="1049.6" cy="240.7" r="3.70"/><circle cx="1066.5" cy="224.3" r="3.70"/><circle cx="1083.5" cy="309.6" r="3.70"/><circle cx="1100.5" cy="342.5" r="3.70"/><circle cx="1117.4" cy="176.7" r="3.70"/><circle cx="1134.4" cy="159.5" r="3.70"/><circle cx="1151.3" cy="335.3" r="3.70"/><circle cx="1168.3" cy="366.8" r="3.70"/><circle cx="1185.2" cy="158.9" r="3.70"/><circle cx="1202.2" cy="123.2" r="3.70"/></g>
<polyline points="116.8,224.2 133.7,391.4 150.7,441.1 167.7,413.8 184.6,393.5 201.6,453.2 218.5,455.2 235.5,291.8 252.4,238.7 269.4,334.6 286.4,394.1 303.3,339.6 320.3,274.9 337.2,363.7 354.2,401.1 371.2,251.1 388.1,198.8 405.1,276.8 422.1,363.1 439.0,481.8 456.0,543.4 472.9,572.1 489.9,569.4 506.9,429.4 523.8,373.3 540.8,423.8 557.7,435.7 574.7,259.2 591.6,225.4 608.6,346.3 625.6,391.5 642.5,269.5 659.5,218.6 676.5,323.6 693.4,362.6 710.4,224.3 727.3,191.3 744.3,280.6 761.2,327.9 778.2,218.9 795.2,190.6 812.1,298.2 829.1,347.9 846.1,246.5 863.0,204.1 880.0,324.7 896.9,373.9 913.9,183.6 930.9,122.5 947.8,257.3 964.8,297.1 981.7,125.2 998.7,87.5 1015.6,241.8 1032.6,308.9 1049.6,152.9 1066.5,145.4 1083.5,270.1 1100.5,329.4 1117.4,368.5 1134.4,377.6 1151.3,431.9 1168.3,442.0 1185.2,310.1 1202.2,263.8" fill="none" stroke="#e6550d" stroke-width="2.50" stroke-linejoin="round" stroke-linecap="square"/>
<g fill="#e6550d"><circle cx="116.8" cy="224.2" r="3.70"/><circle cx="133.7" cy="391.4" r="3.70"/><circle cx="150.7" cy="441.1" r="3.70"/><circle cx="167.7" cy="413.8" r="3.70"/><circle cx="184.6" cy="393.5" r="3.70"/><circle cx="201.6" cy="453.2" r="3.70"/><circle cx="218.5" cy="455.2" r="3.70"/><circle cx="235.5" cy="291.8" r="3.70"/><circle cx="252.4" cy="238.7" r="3.70"/><circle cx="269.4" cy="334.6" r="3.70"/><circle cx="286.4" cy="394.1" r="3.70"/><circle cx="303.3" cy="339.6" r="3.70"/><circle cx="320.3" cy="274.9" r="3.70"/><circle cx="337.2" cy="363.7" r="3.70"/><circle cx="354.2" cy="401.1" r="3.70"/><circle cx="371.2" cy="251.1" r="3.70"/><circle cx="388.1" cy="198.8" r="3.70"/><circle cx="405.1" cy="276.8" r="3.70"/><circle cx="422.1" cy="363.1" r="3.70"/><circle cx="439.0" cy="481.8" r="3.70"/><circle cx="456.0" cy="543.4" r="3.70"/><circle cx="472.9" cy="572.1" r="3.70"/><circle cx="489.9" cy="569.4" r="3.70"/><circle cx="506.9" cy="429.4" r="3.70"/><circle cx="523.8" cy="373.3" r="3.70"/><circle cx="540.8" cy="423.8" r="3.70"/><circle cx="557.7" cy="435.7" r="3.70"/><circle cx="574.7" cy="259.2" r="3.70"/><circle cx="591.6" cy="225.4" r="3.70"/><circle cx="608.6" cy="346.3" r="3.70"/><circle cx="625.6" cy="391.5" r="3.70"/><circle cx="642.5" cy="269.5" r="3.70"/><circle cx="659.5" cy="218.6" r="3.70"/><circle cx="676.5" cy="323.6" r="3.70"/><circle cx="693.4" cy="362.6" r="3.70"/><circle cx="710.4" cy="224.3" r="3.70"/><circle cx="727.3" cy="191.3" r="3.70"/><circle cx="744.3" cy="280.6" r="3.70"/><circle cx="761.2" cy="327.9" r="3.70"/><circle cx="778.2" cy="218.9" r="3.70"/><circle cx="795.2" cy="190.6" r="3.70"/><circle cx="812.1" cy="298.2" r="3.70"/><circle cx="829.1" cy="347.9" r="3.70"/><circle cx="846.1" cy="246.5" r="3.70"/><circle cx="863.0" cy="204.1" r="3.70"/><circle cx="880.0" cy="324.7" r="3.70"/><circle cx="896.9" cy="373.9" r="3.70"/><circle cx="913.9" cy="183.6" r="3.70"/><circle cx="930.9" cy="122.5" r="3.70"/><circle cx="947.8" cy="257.3" r="3.70"/><circle cx="964.8" cy="297.1" r="3.70"/><circle cx="981.7" cy="125.2" r="3.70"/><circle cx="998.7" cy="87.5" r="3.70"/><circle cx="1015.6" cy="241.8" r="3.70"/><circle cx="1032.6" cy="308.9" r="3.70"/><circle cx="1049.6" cy="152.9" r="3.70"/><circle cx="1066.5" cy="145.4" r="3.70"/><circle cx="1083.5" cy="270.1" r="3.70"/><circle cx="1100.5" cy="329.4" r="3.70"/><circle cx="1117.4" cy="368.5" r="3.70"/><circle cx="1134.4" cy="377.6" r="3.70"/><circle cx="1151.3" cy="431.9" r="3.70"/><circle cx="1168.3" cy="442.0" r="3.70"/><circle cx="1185.2" cy="310.1" r="3.70"/><circle cx="1202.2" cy="263.8" r="3.70"/></g>
<polyline points="116.8,229.0 133.7,391.7 150.7,439.2 167.7,404.9 184.6,369.0 201.6,442.1 218.5,447.3 235.5,282.5 252.4,230.6 269.4,310.0 286.4,366.1 303.3,268.8 320.3,210.8 337.2,322.0 354.2,365.7 371.2,222.9 388.1,178.5 405.1,278.3 422.1,396.3 439.0,421.8 456.0,438.5 472.9,500.0 489.9,526.9 506.9,406.4 523.8,347.6 540.8,431.8 557.7,454.3 574.7,278.8 591.6,249.9 608.6,348.1 625.6,390.7 642.5,273.8 659.5,231.7 676.5,315.3 693.4,363.5 710.4,208.9 727.3,168.4 744.3,268.9 761.2,302.1 778.2,142.1 795.2,121.9 812.1,249.0 829.1,299.0 846.1,141.4 863.0,128.6 880.0,229.0 896.9,296.5 913.9,182.5 930.9,229.3 947.8,388.8 964.8,437.6 981.7,290.3 998.7,229.7 1015.6,309.2 1032.6,373.1 1049.6,193.3 1066.5,163.0 1083.5,252.6 1100.5,336.7 1117.4,165.7 1134.4,181.8 1151.3,274.2 1168.3,324.7 1185.2,240.8 1202.2,238.2" fill="none" stroke="#fd8d3c" stroke-width="2.50" stroke-linejoin="round" stroke-linecap="square"/>
<g fill="#fd8d3c"><circle cx="116.8" cy="229.0" r="3.70"/><circle cx="133.7" cy="391.7" r="3.70"/><circle cx="150.7" cy="439.2" r="3.70"/><circle cx="167.7" cy="404.9" r="3.70"/><circle cx="184.6" cy="369.0" r="3.70"/><circle cx="201.6" cy="442.1" r="3.70"/><circle cx="218.5" cy="447.3" r="3.70"/><circle cx="235.5" cy="282.5" r="3.70"/><circle cx="252.4" cy="230.6" r="3.70"/><circle cx="269.4" cy="310.0" r="3.70"/><circle cx="286.4" cy="366.1" r="3.70"/><circle cx="303.3" cy="268.8" r="3.70"/><circle cx="320.3" cy="210.8" r="3.70"/><circle cx="337.2" cy="322.0" r="3.70"/><circle cx="354.2" cy="365.7" r="3.70"/><circle cx="371.2" cy="222.9" r="3.70"/><circle cx="388.1" cy="178.5" r="3.70"/><circle cx="405.1" cy="278.3" r="3.70"/><circle cx="422.1" cy="396.3" r="3.70"/><circle cx="439.0" cy="421.8" r="3.70"/><circle cx="456.0" cy="438.5" r="3.70"/><circle cx="472.9" cy="500.0" r="3.70"/><circle cx="489.9" cy="526.9" r="3.70"/><circle cx="506.9" cy="406.4" r="3.70"/><circle cx="523.8" cy="347.6" r="3.70"/><circle cx="540.8" cy="431.8" r="3.70"/><circle cx="557.7" cy="454.3" r="3.70"/><circle cx="574.7" cy="278.8" r="3.70"/><circle cx="591.6" cy="249.9" r="3.70"/><circle cx="608.6" cy="348.1" r="3.70"/><circle cx="625.6" cy="390.7" r="3.70"/><circle cx="642.5" cy="273.8" r="3.70"/><circle cx="659.5" cy="231.7" r="3.70"/><circle cx="676.5" cy="315.3" r="3.70"/><circle cx="693.4" cy="363.5" r="3.70"/><circle cx="710.4" cy="208.9" r="3.70"/><circle cx="727.3" cy="168.4" r="3.70"/><circle cx="744.3" cy="268.9" r="3.70"/><circle cx="761.2" cy="302.1" r="3.70"/><circle cx="778.2" cy="142.1" r="3.70"/><circle cx="795.2" cy="121.9" r="3.70"/><circle cx="812.1" cy="249.0" r="3.70"/><circle cx="829.1" cy="299.0" r="3.70"/><circle cx="846.1" cy="141.4" r="3.70"/><circle cx="863.0" cy="128.6" r="3.70"/><circle cx="880.0" cy="229.0" r="3.70"/><circle cx="896.9" cy="296.5" r="3.70"/><circle cx="913.9" cy="182.5" r="3.70"/><circle cx="930.9" cy="229.3" r="3.70"/><circle cx="947.8" cy="388.8" r="3.70"/><circle cx="964.8" cy="437.6" r="3.70"/><circle cx="981.7" cy="290.3" r="3.70"/><circle cx="998.7" cy="229.7" r="3.70"/><circle cx="1015.6" cy="309.2" r="3.70"/><circle cx="1032.6" cy="373.1" r="3.70"/><circle cx="1049.6" cy="193.3" r="3.70"/><circle cx="1066.5" cy="163.0" r="3.70"/><circle cx="1083.5" cy="252.6" r="3.70"/><circle cx="1100.5" cy="336.7" r="3.70"/><circle cx="1117.4" cy="165.7" r="3.70"/><circle cx="1134.4" cy="181.8" r="3.70"/><circle cx="1151.3" cy="274.2" r="3.70"/><circle cx="1168.3" cy="324.7" r="3.70"/><circle cx="1185.2" cy="240.8" r="3.70"/><circle cx="1202.2" cy="238.2" r="3.70"/></g>
<polyline points="116.8,226.7 133.7,386.3 150.7,437.7 167.7,404.3 184.6,397.5 201.6,454.8 218.5,466.3 235.5,296.4 252.4,237.3 269.4,328.4 286.4,403.6 303.3,325.7 320.3,236.4 337.2,313.9 354.2,371.9 371.2,197.3 388.1,179.8 405.1,284.8 422.1,412.3 439.0,436.6 456.0,449.5 472.9,517.1 489.9,530.3 506.9,412.0 523.8,378.4 540.8,441.9 557.7,460.9 574.7,281.4 591.6,241.2 608.6,343.0 625.6,390.8 642.5,250.6 659.5,194.9 676.5,296.7 693.4,322.5 710.4,168.0 727.3,143.5 744.3,249.9 761.2,291.7 778.2,149.5 795.2,126.6 812.1,298.2 829.1,402.9 846.1,337.5 863.0,296.1 880.0,350.3 896.9,406.4 913.9,311.9 930.9,278.2 947.8,440.0 964.8,471.7 981.7,392.1 998.7,381.3 1015.6,494.6 1032.6,503.3 1049.6,399.2 1066.5,247.6 1083.5,315.2 1100.5,272.2 1117.4,194.3 1134.4,175.8 1151.3,312.6 1168.3,341.6 1185.2,270.2 1202.2,264.7" fill="none" stroke="#fdae6b" stroke-width="2.50" stroke-linejoin="round" stroke-linecap="square"/>
<g fill="#fdae6b"><circle cx="116.8" cy="226.7" r="3.70"/><circle cx="133.7" cy="386.3" r="3.70"/><circle cx="150.7" cy="437.7" r="3.70"/><circle cx="167.7" cy="404.3" r="3.70"/><circle cx="184.6" cy="397.5" r="3.70"/><circle cx="201.6" cy="454.8" r="3.70"/><circle cx="218.5" cy="466.3" r="3.70"/><circle cx="235.5" cy="296.4" r="3.70"/><circle cx="252.4" cy="237.3" r="3.70"/><circle cx="269.4" cy="328.4" r="3.70"/><circle cx="286.4" cy="403.6" r="3.70"/><circle cx="303.3" cy="325.7" r="3.70"/><circle cx="320.3" cy="236.4" r="3.70"/><circle cx="337.2" cy="313.9" r="3.70"/><circle cx="354.2" cy="371.9" r="3.70"/><circle cx="371.2" cy="197.3" r="3.70"/><circle cx="388.1" cy="179.8" r="3.70"/><circle cx="405.1" cy="284.8" r="3.70"/><circle cx="422.1" cy="412.3" r="3.70"/><circle cx="439.0" cy="436.6" r="3.70"/><circle cx="456.0" cy="449.5" r="3.70"/><circle cx="472.9" cy="517.1" r="3.70"/><circle cx="489.9" cy="530.3" r="3.70"/><circle cx="506.9" cy="412.0" r="3.70"/><circle cx="523.8" cy="378.4" r="3.70"/><circle cx="540.8" cy="441.9" r="3.70"/><circle cx="557.7" cy="460.9" r="3.70"/><circle cx="574.7" cy="281.4" r="3.70"/><circle cx="591.6" cy="241.2" r="3.70"/><circle cx="608.6" cy="343.0" r="3.70"/><circle cx="625.6" cy="390.8" r="3.70"/><circle cx="642.5" cy="250.6" r="3.70"/><circle cx="659.5" cy="194.9" r="3.70"/><circle cx="676.5" cy="296.7" r="3.70"/><circle cx="693.4" cy="322.5" r="3.70"/><circle cx="710.4" cy="168.0" r="3.70"/><circle cx="727.3" cy="143.5" r="3.70"/><circle cx="744.3" cy="249.9" r="3.70"/><circle cx="761.2" cy="291.7" r="3.70"/><circle cx="778.2" cy="149.5" r="3.70"/><circle cx="795.2" cy="126.6" r="3.70"/><circle cx="812.1" cy="298.2" r="3.70"/><circle cx="829.1" cy="402.9" r="3.70"/><circle cx="846.1" cy="337.5" r="3.70"/><circle cx="863.0" cy="296.1" r="3.70"/><circle cx="880.0" cy="350.3" r="3.70"/><circle cx="896.9" cy="406.4" r="3.70"/><circle cx="913.9" cy="311.9" r="3.70"/><circle cx="930.9" cy="278.2" r="3.70"/><circle cx="947.8" cy="440.0" r="3.70"/><circle cx="964.8" cy="471.7" r="3.70"/><circle cx="981.7" cy="392.1" r="3.70"/><circle cx="998.7" cy="381.3" r="3.70"/><circle cx="1015.6" cy="494.6" r="3.70"/><circle cx="1032.6" cy="503.3" r="3.70"/><circle cx="1049.6" cy="399.2" r="3.70"/><circle cx="1066.5" cy="247.6" r="3.70"/><circle cx="1083.5" cy="315.2" r="3.70"/><circle cx="1100.5" cy="272.2" r="3.70"/><circle cx="1117.4" cy="194.3" r="3.70"/><circle cx="1134.4" cy="175.8" r="3.70"/><circle cx="1151.3" cy="312.6" r="3.70"/><circle cx="1168.3" cy="341.6" r="3.70"/><circle cx="1185.2" cy="270.2" r="3.70"/><circle cx="1202.2" cy="264.7" r="3.70"/></g>
<polyline points="116.8,221.4 133.7,377.2 150.7,435.1 167.7,399.9 184.6,365.6 201.6,431.3 218.5,433.3 235.5,275.5 252.4,229.1 269.4,318.8 286.4,384.6 303.3,330.1 320.3,300.5 337.2,373.9 354.2,407.6 371.2,288.3 388.1,222.3 405.1,315.9 422.1,446.3 439.0,462.5 456.0,471.1 472.9,528.3 489.9,545.8 506.9,449.4 523.8,409.0 540.8,448.4 557.7,471.0 574.7,279.7 591.6,242.3 608.6,344.3 625.6,387.4 642.5,254.9 659.5,219.3 676.5,311.3 693.4,354.5 710.4,212.4 727.3,187.5 744.3,299.8 761.2,336.9 778.2,242.5 795.2,233.1 812.1,398.2 829.1,416.4 846.1,398.2 863.0,351.7 880.0,396.2 896.9,402.2 913.9,206.8 930.9,290.4 947.8,371.2 964.8,396.8 981.7,312.6 998.7,317.3 1015.6,435.3 1032.6,446.7 1049.6,234.4 1066.5,181.8 1083.5,258.7 1100.5,346.9 1117.4,205.4 1134.4,328.1 1151.3,426.2 1168.3,390.4 1185.2,175.1 1202.2,175.1" fill="none" stroke="#fdd0a2" stroke-width="2.50" stroke-linejoin="round" stroke-linecap="square"/>
<g fill="#fdd0a2"><circle cx="116.8" cy="221.4" r="3.70"/><circle cx="133.7" cy="377.2" r="3.70"/><circle cx="150.7" cy="435.1" r="3.70"/><circle cx="167.7" cy="399.9" r="3.70"/><circle cx="184.6" cy="365.6" r="3.70"/><circle cx="201.6" cy="431.3" r="3.70"/><circle cx="218.5" cy="433.3" r="3.70"/><circle cx="235.5" cy="275.5" r="3.70"/><circle cx="252.4" cy="229.1" r="3.70"/><circle cx="269.4" cy="318.8" r="3.70"/><circle cx="286.4" cy="384.6" r="3.70"/><circle cx="303.3" cy="330.1" r="3.70"/><circle cx="320.3" cy="300.5" r="3.70"/><circle cx="337.2" cy="373.9" r="3.70"/><circle cx="354.2" cy="407.6" r="3.70"/><circle cx="371.2" cy="288.3" r="3.70"/><circle cx="388.1" cy="222.3" r="3.70"/><circle cx="405.1" cy="315.9" r="3.70"/><circle cx="422.1" cy="446.3" r="3.70"/><circle cx="439.0" cy="462.5" r="3.70"/><circle cx="456.0" cy="471.1" r="3.70"/><circle cx="472.9" cy="528.3" r="3.70"/><circle cx="489.9" cy="545.8" r="3.70"/><circle cx="506.9" cy="449.4" r="3.70"/><circle cx="523.8" cy="409.0" r="3.70"/><circle cx="540.8" cy="448.4" r="3.70"/><circle cx="557.7" cy="471.0" r="3.70"/><circle cx="574.7" cy="279.7" r="3.70"/><circle cx="591.6" cy="242.3" r="3.70"/><circle cx="608.6" cy="344.3" r="3.70"/><circle cx="625.6" cy="387.4" r="3.70"/><circle cx="642.5" cy="254.9" r="3.70"/><circle cx="659.5" cy="219.3" r="3.70"/><circle cx="676.5" cy="311.3" r="3.70"/><circle cx="693.4" cy="354.5" r="3.70"/><circle cx="710.4" cy="212.4" r="3.70"/><circle cx="727.3" cy="187.5" r="3.70"/><circle cx="744.3" cy="299.8" r="3.70"/><circle cx="761.2" cy="336.9" r="3.70"/><circle cx="778.2" cy="242.5" r="3.70"/><circle cx="795.2" cy="233.1" r="3.70"/><circle cx="812.1" cy="398.2" r="3.70"/><circle cx="829.1" cy="416.4" r="3.70"/><circle cx="846.1" cy="398.2" r="3.70"/><circle cx="863.0" cy="351.7" r="3.70"/><circle cx="880.0" cy="396.2" r="3.70"/><circle cx="896.9" cy="402.2" r="3.70"/><circle cx="913.9" cy="206.8" r="3.70"/><circle cx="930.9" cy="290.4" r="3.70"/><circle cx="947.8" cy="371.2" r="3.70"/><circle cx="964.8" cy="396.8" r="3.70"/><circle cx="981.7" cy="312.6" r="3.70"/><circle cx="998.7" cy="317.3" r="3.70"/><circle cx="1015.6" cy="435.3" r="3.70"/><circle cx="1032.6" cy="446.7" r="3.70"/><circle cx="1049.6" cy="234.4" r="3.70"/><circle cx="1066.5" cy="181.8" r="3.70"/><circle cx="1083.5" cy="258.7" r="3.70"/><circle cx="1100.5" cy="346.9" r="3.70"/><circle cx="1117.4" cy="205.4" r="3.70"/><circle cx="1134.4" cy="328.1" r="3.70"/><circle cx="1151.3" cy="426.2" r="3.70"/><circle cx="1168.3" cy="390.4" r="3.70"/><circle cx="1185.2" cy="175.1" r="3.70"/><circle cx="1202.2" cy="175.1" r="3.70"/></g>
<polyline points="116.8,235.1 133.7,396.9 150.7,443.7 167.7,418.6 184.6,396.6 201.6,451.5 218.5,462.7 235.5,294.4 252.4,243.2 269.4,349.0 286.4,454.8 303.3,390.1 320.3,308.6 337.2,363.1 354.2,379.2 371.2,223.6 388.1,185.9 405.1,282.4 422.1,415.7 439.0,392.1 456.0,410.1 472.9,464.5 489.9,487.0 506.9,366.8 523.8,327.7 540.8,414.6 557.7,441.3 574.7,252.6 591.6,194.6 608.6,276.9 625.6,328.1 642.5,177.8 659.5,144.4 676.5,296.4 693.4,352.4 710.4,204.8 727.3,175.5 744.3,278.8 761.2,306.9 778.2,159.3 795.2,142.4 812.1,252.6 829.1,304.2 846.1,222.9 863.0,141.4 880.0,260.5 896.9,295.1 913.9,150.8 930.9,117.8 947.8,274.4 964.8,364.2 981.7,154.9 998.7,120.5 1015.6,213.2 1032.6,363.8 1049.6,338.9 1066.5,334.8 1083.5,398.5 1100.5,421.1 1117.4,406.3 1134.4,371.9 1151.3,391.5 1168.3,437.0 1185.2,320.7 1202.2,259.9" fill="none" stroke="#31a354" stroke-width="2.50" stroke-linejoin="round" stroke-linecap="square"/>
<g fill="#31a354"><circle cx="116.8" cy="235.1" r="3.70"/><circle cx="133.7" cy="396.9" r="3.70"/><circle cx="150.7" cy="443.7" r="3.70"/><circle cx="167.7" cy="418.6" r="3.70"/><circle cx="184.6" cy="396.6" r="3.70"/><circle cx="201.6" cy="451.5" r="3.70"/><circle cx="218.5" cy="462.7" r="3.70"/><circle cx="235.5" cy="294.4" r="3.70"/><circle cx="252.4" cy="243.2" r="3.70"/><circle cx="269.4" cy="349.0" r="3.70"/><circle cx="286.4" cy="454.8" r="3.70"/><circle cx="303.3" cy="390.1" r="3.70"/><circle cx="320.3" cy="308.6" r="3.70"/><circle cx="337.2" cy="363.1" r="3.70"/><circle cx="354.2" cy="379.2" r="3.70"/><circle cx="371.2" cy="223.6" r="3.70"/><circle cx="388.1" cy="185.9" r="3.70"/><circle cx="405.1" cy="282.4" r="3.70"/><circle cx="422.1" cy="415.7" r="3.70"/><circle cx="439.0" cy="392.1" r="3.70"/><circle cx="456.0" cy="410.1" r="3.70"/><circle cx="472.9" cy="464.5" r="3.70"/><circle cx="489.9" cy="487.0" r="3.70"/><circle cx="506.9" cy="366.8" r="3.70"/><circle cx="523.8" cy="327.7" r="3.70"/><circle cx="540.8" cy="414.6" r="3.70"/><circle cx="557.7" cy="441.3" r="3.70"/><circle cx="574.7" cy="252.6" r="3.70"/><circle cx="591.6" cy="194.6" r="3.70"/><circle cx="608.6" cy="276.9" r="3.70"/><circle cx="625.6" cy="328.1" r="3.70"/><circle cx="642.5" cy="177.8" r="3.70"/><circle cx="659.5" cy="144.4" r="3.70"/><circle cx="676.5" cy="296.4" r="3.70"/><circle cx="693.4" cy="352.4" r="3.70"/><circle cx="710.4" cy="204.8" r="3.70"/><circle cx="727.3" cy="175.5" r="3.70"/><circle cx="744.3" cy="278.8" r="3.70"/><circle cx="761.2" cy="306.9" r="3.70"/><circle cx="778.2" cy="159.3" r="3.70"/><circle cx="795.2" cy="142.4" r="3.70"/><circle cx="812.1" cy="252.6" r="3.70"/><circle cx="829.1" cy="304.2" r="3.70"/><circle cx="846.1" cy="222.9" r="3.70"/><circle cx="863.0" cy="141.4" r="3.70"/><circle cx="880.0" cy="260.5" r="3.70"/><circle cx="896.9" cy="295.1" r="3.70"/><circle cx="913.9" cy="150.8" r="3.70"/><circle cx="930.9" cy="117.8" r="3.70"/><circle cx="947.8" cy="274.4" r="3.70"/><circle cx="964.8" cy="364.2" r="3.70"/><circle cx="981.7" cy="154.9" r="3.70"/><circle cx="998.7" cy="120.5" r="3.70"/><circle cx="1015.6" cy="213.2" r="3.70"/><circle cx="1032.6" cy="363.8" r="3.70"/><circle cx="1049.6" cy="338.9" r="3.70"/><circle cx="1066.5" cy="334.8" r="3.70"/><circle cx="1083.5" cy="398.5" r="3.70"/><circle cx="1100.5" cy="421.1" r="3.70"/><circle cx="1117.4" cy="406.3" r="3.70"/><circle cx="1134.4" cy="371.9" r="3.70"/><circle cx="1151.3" cy="391.5" r="3.70"/><circle cx="1168.3" cy="437.0" r="3.70"/><circle cx="1185.2" cy="320.7" r="3.70"/><circle cx="1202.2" cy="259.9" r="3.70"/></g>
<polyline points="116.8,218.9 133.7,412.4 150.7,441.7 167.7,399.0 184.6,351.7 201.6,421.3 218.5,421.0 235.5,269.8 252.4,223.6 269.4,302.6 286.4,373.9 303.3,276.8 320.3,217.6 337.2,315.1 354.2,376.1 371.2,213.1 388.1,184.5 405.1,275.7 422.1,331.5 439.0,374.8 456.0,414.4 472.9,510.8 489.9,543.8 506.9,426.5 523.8,296.4 540.8,372.6 557.7,379.4 574.7,210.2 591.6,179.1 608.6,288.4 625.6,327.7 642.5,194.0 659.5,154.2 676.5,271.6 693.4,304.8 710.4,153.9 727.3,142.8 744.3,254.6 761.2,310.0 778.2,198.0 795.2,200.7 812.1,323.7 829.1,369.9 846.1,216.2 863.0,171.1 880.0,267.9 896.9,320.7 913.9,169.0 930.9,147.5 947.8,217.9 964.8,257.3 981.7,163.0 998.7,184.2 1015.6,311.9 1032.6,339.6 1049.6,204.8 1066.5,204.8 1083.5,299.8 1100.5,345.6 1117.4,274.0 1134.4,263.1 1151.3,378.6 1168.3,413.0 1185.2,313.4 1202.2,319.8" fill="none" stroke="#74c476" stroke-width="2.50" stroke-linejoin="round" stroke-linecap="square"/>
<g fill="#74c476"><circle cx="116.8" cy="218.9" r="3.70"/><circle cx="133.7" cy="412.4" r="3.70"/><circle cx="150.7" cy="441.7" r="3.70"/><circle cx="167.7" cy="399.0" r="3.70"/><circle cx="184.6" cy="351.7" r="3.70"/><circle cx="201.6" cy="421.3" r="3.70"/><circle cx="218.5" cy="421.0" r="3.70"/><circle cx="235.5" cy="269.8" r="3.70"/><circle cx="252.4" cy="223.6" r="3.70"/><circle cx="269.4" cy="302.6" r="3.70"/><circle cx="286.4" cy="373.9" r="3.70"/><circle cx="303.3" cy="276.8" r="3.70"/><circle cx="320.3" cy="217.6" r="3.70"/><circle cx="337.2" cy="315.1" r="3.70"/><circle cx="354.2" cy="376.1" r="3.70"/><circle cx="371.2" cy="213.1" r="3.70"/><circle cx="388.1" cy="184.5" r="3.70"/><circle cx="405.1" cy="275.7" r="3.70"/><circle cx="422.1" cy="331.5" r="3.70"/><circle cx="439.0" cy="374.8" r="3.70"/><circle cx="456.0" cy="414.4" r="3.70"/><circle cx="472.9" cy="510.8" r="3.70"/><circle cx="489.9" cy="543.8" r="3.70"/><circle cx="506.9" cy="426.5" r="3.70"/><circle cx="523.8" cy="296.4" r="3.70"/><circle cx="540.8" cy="372.6" r="3.70"/><circle cx="557.7" cy="379.4" r="3.70"/><circle cx="574.7" cy="210.2" r="3.70"/><circle cx="591.6" cy="179.1" r="3.70"/><circle cx="608.6" cy="288.4" r="3.70"/><circle cx="625.6" cy="327.7" r="3.70"/><circle cx="642.5" cy="194.0" r="3.70"/><circle cx="659.5" cy="154.2" r="3.70"/><circle cx="676.5" cy="271.6" r="3.70"/><circle cx="693.4" cy="304.8" r="3.70"/><circle cx="710.4" cy="153.9" r="3.70"/><circle cx="727.3" cy="142.8" r="3.70"/><circle cx="744.3" cy="254.6" r="3.70"/><circle cx="761.2" cy="310.0" r="3.70"/><circle cx="778.2" cy="198.0" r="3.70"/><circle cx="795.2" cy="200.7" r="3.70"/><circle cx="812.1" cy="323.7" r="3.70"/><circle cx="829.1" cy="369.9" r="3.70"/><circle cx="846.1" cy="216.2" r="3.70"/><circle cx="863.0" cy="171.1" r="3.70"/><circle cx="880.0" cy="267.9" r="3.70"/><circle cx="896.9" cy="320.7" r="3.70"/><circle cx="913.9" cy="169.0" r="3.70"/><circle cx="930.9" cy="147.5" r="3.70"/><circle cx="947.8" cy="217.9" r="3.70"/><circle cx="964.8" cy="257.3" r="3.70"/><circle cx="981.7" cy="163.0" r="3.70"/><circle cx="998.7" cy="184.2" r="3.70"/><circle cx="1015.6" cy="311.9" r="3.70"/><circle cx="1032.6" cy="339.6" r="3.70"/><circle cx="1049.6" cy="204.8" r="3.70"/><circle cx="1066.5" cy="204.8" r="3.70"/><circle cx="1083.5" cy="299.8" r="3.70"/><circle cx="1100.5" cy="345.6" r="3.70"/><circle cx="1117.4" cy="274.0" r="3.70"/><circle cx="1134.4" cy="263.1" r="3.70"/><circle cx="1151.3" cy="378.6" r="3.70"/><circle cx="1168.3" cy="413.0" r="3.70"/><circle cx="1185.2" cy="313.4" r="3.70"/><circle cx="1202.2" cy="319.8" r="3.70"/></g>
<polyline points="116.8,217.6 133.7,338.9 150.7,433.9 167.7,388.1 184.6,353.0 201.6,424.9 218.5,423.1 235.5,266.1 252.4,221.6 269.4,307.9 286.4,365.8 303.3,287.7 320.3,234.9 337.2,342.3 354.2,386.7 371.2,272.8 388.1,208.2 405.1,272.8 422.1,348.3 439.0,388.0 456.0,446.1 472.9,511.4 489.9,531.6 506.9,425.2 523.8,362.5 540.8,418.1 557.7,392.3 574.7,212.8 591.6,170.6 608.6,287.1 625.6,344.8 642.5,210.8 659.5,179.8 676.5,299.4 693.4,353.7 710.4,216.9 727.3,190.9 744.3,288.3 761.2,328.1 778.2,237.8 795.2,216.9 812.1,315.0 829.1,333.3 846.1,154.9 863.0,122.5 880.0,251.3 896.9,314.6 913.9,134.3 930.9,108.4 947.8,238.5 964.8,350.4 981.7,323.7 998.7,339.6 1015.6,424.1 1032.6,470.7 1049.6,351.7 1066.5,331.5 1083.5,407.3 1100.5,381.6 1117.4,227.7 1134.4,200.0 1151.3,347.5 1168.3,362.0 1185.2,193.6 1202.2,160.3" fill="none" stroke="#a1d99b" stroke-width="2.50" stroke-linejoin="round" stroke-linecap="square"/>
<g fill="#a1d99b"><circle cx="116.8" cy="217.6" r="3.70"/><circle cx="133.7" cy="338.9" r="3.70"/><circle cx="150.7" cy="433.9" r="3.70"/><circle cx="167.7" cy="388.1" r="3.70"/><circle cx="184.6" cy="353.0" r="3.70"/><circle cx="201.6" cy="424.9" r="3.70"/><circle cx="218.5" cy="423.1" r="3.70"/><circle cx="235.5" cy="266.1" r="3.70"/><circle cx="252.4" cy="221.6" r="3.70"/><circle cx="269.4" cy="307.9" r="3.70"/><circle cx="286.4" cy="365.8" r="3.70"/><circle cx="303.3" cy="287.7" r="3.70"/><circle cx="320.3" cy="234.9" r="3.70"/><circle cx="337.2" cy="342.3" r="3.70"/><circle cx="354.2" cy="386.7" r="3.70"/><circle cx="371.2" cy="272.8" r="3.70"/><circle cx="388.1" cy="208.2" r="3.70"/><circle cx="405.1" cy="272.8" r="3.70"/><circle cx="422.1" cy="348.3" r="3.70"/><circle cx="439.0" cy="388.0" r="3.70"/><circle cx="456.0" cy="446.1" r="3.70"/><circle cx="472.9" cy="511.4" r="3.70"/><circle cx="489.9" cy="531.6" r="3.70"/><circle cx="506.9" cy="425.2" r="3.70"/><circle cx="523.8" cy="362.5" r="3.70"/><circle cx="540.8" cy="418.1" r="3.70"/><circle cx="557.7" cy="392.3" r="3.70"/><circle cx="574.7" cy="212.8" r="3.70"/><circle cx="591.6" cy="170.6" r="3.70"/><circle cx="608.6" cy="287.1" r="3.70"/><circle cx="625.6" cy="344.8" r="3.70"/><circle cx="642.5" cy="210.8" r="3.70"/><circle cx="659.5" cy="179.8" r="3.70"/><circle cx="676.5" cy="299.4" r="3.70"/><circle cx="693.4" cy="353.7" r="3.70"/><circle cx="710.4" cy="216.9" r="3.70"/><circle cx="727.3" cy="190.9" r="3.70"/><circle cx="744.3" cy="288.3" r="3.70"/><circle cx="761.2" cy="328.1" r="3.70"/><circle cx="778.2" cy="237.8" r="3.70"/><circle cx="795.2" cy="216.9" r="3.70"/><circle cx="812.1" cy="315.0" r="3.70"/><circle cx="829.1" cy="333.3" r="3.70"/><circle cx="846.1" cy="154.9" r="3.70"/><circle cx="863.0" cy="122.5" r="3.70"/><circle cx="880.0" cy="251.3" r="3.70"/><circle cx="896.9" cy="314.6" r="3.70"/><circle cx="913.9" cy="134.3" r="3.70"/><circle cx="930.9" cy="108.4" r="3.70"/><circle cx="947.8" cy="238.5" r="3.70"/><circle cx="964.8" cy="350.4" r="3.70"/><circle cx="981.7" cy="323.7" r="3.70"/><circle cx="998.7" cy="339.6" r="3.70"/><circle cx="1015.6" cy="424.1" r="3.70"/><circle cx="1032.6" cy="470.7" r="3.70"/><circle cx="1049.6" cy="351.7" r="3.70"/><circle cx="1066.5" cy="331.5" r="3.70"/><circle cx="1083.5" cy="407.3" r="3.70"/><circle cx="1100.5" cy="381.6" r="3.70"/><circle cx="1117.4" cy="227.7" r="3.70"/><circle cx="1134.4" cy="200.0" r="3.70"/><circle cx="1151.3" cy="347.5" r="3.70"/><circle cx="1168.3" cy="362.0" r="3.70"/><circle cx="1185.2" cy="193.6" r="3.70"/><circle cx="1202.2" cy="160.3" r="3.70"/></g>
<polyline points="116.8,224.0 133.7,381.3 150.7,436.6 167.7,398.9 184.6,367.5 201.6,435.3 218.5,438.6 235.5,279.6 252.4,231.0 269.4,318.0 286.4,376.6 303.3,303.8 320.3,245.2 337.2,344.3 354.2,381.3 371.2,234.4 388.1,194.3 405.1,288.3 422.1,401.9 439.0,409.0 456.0,420.4 472.9,487.2 489.9,503.3 506.9,373.9 523.8,312.6 540.8,390.1 557.7,407.6 574.7,238.8 591.6,201.7 608.6,311.2 625.6,355.7 642.5,218.2 659.5,175.8 676.5,289.0 693.4,328.8 710.4,176.4 727.3,152.2 744.3,264.1 761.2,307.9 778.2,174.1 795.2,169.0 812.1,288.3 829.1,340.2 846.1,229.0 863.0,205.4 880.0,308.9 896.9,351.7 913.9,243.2 930.9,230.4 947.8,328.1 964.8,369.9 981.7,274.2 998.7,259.4 1015.6,364.5 1032.6,400.2 1049.6,303.2 1066.5,282.9 1083.5,373.9 1100.5,402.2 1117.4,291.0 1134.4,267.4 1151.3,364.5 1168.3,403.6 1185.2,282.9 1202.2,250.6" fill="none" stroke="#000" stroke-width="6.20" stroke-linejoin="round" stroke-linecap="square"/>
<g fill="#000"><circle cx="116.8" cy="224.0" r="5.25"/><circle cx="133.7" cy="381.3" r="5.25"/><circle cx="150.7" cy="436.6" r="5.25"/><circle cx="167.7" cy="398.9" r="5.25"/><circle cx="184.6" cy="367.5" r="5.25"/><circle cx="201.6" cy="435.3" r="5.25"/><circle cx="218.5" cy="438.6" r="5.25"/><circle cx="235.5" cy="279.6" r="5.25"/><circle cx="252.4" cy="231.0" r="5.25"/><circle cx="269.4" cy="318.0" r="5.25"/><circle cx="286.4" cy="376.6" r="5.25"/><circle cx="303.3" cy="303.8" r="5.25"/><circle cx="320.3" cy="245.2" r="5.25"/><circle cx="337.2" cy="344.3" r="5.25"/><circle cx="354.2" cy="381.3" r="5.25"/><circle cx="371.2" cy="234.4" r="5.25"/><circle cx="388.1" cy="194.3" r="5.25"/><circle cx="405.1" cy="288.3" r="5.25"/><circle cx="422.1" cy="401.9" r="5.25"/><circle cx="439.0" cy="409.0" r="5.25"/><circle cx="456.0" cy="420.4" r="5.25"/><circle cx="472.9" cy="487.2" r="5.25"/><circle cx="489.9" cy="503.3" r="5.25"/><circle cx="506.9" cy="373.9" r="5.25"/><circle cx="523.8" cy="312.6" r="5.25"/><circle cx="540.8" cy="390.1" r="5.25"/><circle cx="557.7" cy="407.6" r="5.25"/><circle cx="574.7" cy="238.8" r="5.25"/><circle cx="591.6" cy="201.7" r="5.25"/><circle cx="608.6" cy="311.2" r="5.25"/><circle cx="625.6" cy="355.7" r="5.25"/><circle cx="642.5" cy="218.2" r="5.25"/><circle cx="659.5" cy="175.8" r="5.25"/><circle cx="676.5" cy="289.0" r="5.25"/><circle cx="693.4" cy="328.8" r="5.25"/><circle cx="710.4" cy="176.4" r="5.25"/><circle cx="727.3" cy="152.2" r="5.25"/><circle cx="744.3" cy="264.1" r="5.25"/><circle cx="761.2" cy="307.9" r="5.25"/><circle cx="778.2" cy="174.1" r="5.25"/><circle cx="795.2" cy="169.0" r="5.25"/><circle cx="812.1" cy="288.3" r="5.25"/><circle cx="829.1" cy="340.2" r="5.25"/><circle cx="846.1" cy="229.0" r="5.25"/><circle cx="863.0" cy="205.4" r="5.25"/><circle cx="880.0" cy="308.9" r="5.25"/><circle cx="896.9" cy="351.7" r="5.25"/><circle cx="913.9" cy="243.2" r="5.25"/><circle cx="930.9" cy="230.4" r="5.25"/><circle cx="947.8" cy="328.1" r="5.25"/><circle cx="964.8" cy="369.9" r="5.25"/><circle cx="981.7" cy="274.2" r="5.25"/><circle cx="998.7" cy="259.4" r="5.25"/><circle cx="1015.6" cy="364.5" r="5.25"/><circle cx="1032.6" cy="400.2" r="5.25"/><circle cx="1049.6" cy="303.2" r="5.25"/><circle cx="1066.5" cy="282.9" r="5.25"/><circle cx="1083.5" cy="373.9" r="5.25"/><circle cx="1100.5" cy="402.2" r="5.25"/><circle cx="1117.4" cy="291.0" r="5.25"/><circle cx="1134.4" cy="267.4" r="5.25"/><circle cx="1151.3" cy="364.5" r="5.25"/><circle cx="1168.3" cy="403.6" r="5.25"/><circle cx="1185.2" cy="282.9" r="5.25"/><circle cx="1202.2" cy="250.6" r="5.25"/></g>
<polyline points="116.8,307.9 184.6,301.1 252.4,301.1 320.3,294.4 388.1,294.4 456.0,294.4 523.8,287.7 591.6,287.7 659.5,280.9 727.3,280.9 795.2,280.9 863.0,274.2 930.9,274.2 998.7,274.2 1066.5,267.4 1134.4,267.4 1202.2,267.4" fill="none" stroke="#c0c0c0" stroke-width="4.6" stroke-linejoin="round" stroke-linecap="square"/>
<polyline points="116.8,537.0 184.6,530.3 252.4,530.3 320.3,523.6 388.1,523.6 456.0,523.6 523.8,516.8 591.6,516.8 659.5,510.1 727.3,510.1 795.2,510.1 863.0,503.3 930.9,503.3 998.7,503.3 1066.5,496.6 1134.4,496.6 1202.2,496.6" fill="none" stroke="#c0c0c0" stroke-width="4.6" stroke-linejoin="round" stroke-linecap="square"/>
</g>
<rect x="62.5" y="59.5" width="1194" height="599" fill="none" stroke="#000" stroke-width="1.1"/>
<g stroke="#000" stroke-width="1.1"><line x1="116.8" y1="658.5" x2="116.8" y2="663.4"/><line x1="184.6" y1="658.5" x2="184.6" y2="663.4"/><line x1="252.4" y1="658.5" x2="252.4" y2="663.4"/><line x1="320.3" y1="658.5" x2="320.3" y2="663.4"/><line x1="388.1" y1="658.5" x2="388.1" y2="663.4"/><line x1="456.0" y1="658.5" x2="456.0" y2="663.4"/><line x1="523.8" y1="658.5" x2="523.8" y2="663.4"/><line x1="591.6" y1="658.5" x2="591.6" y2="663.4"/><line x1="659.5" y1="658.5" x2="659.5" y2="663.4"/><line x1="727.3" y1="658.5" x2="727.3" y2="663.4"/><line x1="795.2" y1="658.5" x2="795.2" y2="663.4"/><line x1="863.0" y1="658.5" x2="863.0" y2="663.4"/><line x1="930.9" y1="658.5" x2="930.9" y2="663.4"/><line x1="998.7" y1="658.5" x2="998.7" y2="663.4"/><line x1="1066.5" y1="658.5" x2="1066.5" y2="663.4"/><line x1="1134.4" y1="658.5" x2="1134.4" y2="663.4"/><line x1="1202.2" y1="658.5" x2="1202.2" y2="663.4"/><line x1="57.6" y1="631.4" x2="62.5" y2="631.4"/><line x1="57.6" y1="564.0" x2="62.5" y2="564.0"/><line x1="57.6" y1="496.6" x2="62.5" y2="496.6"/><line x1="57.6" y1="429.2" x2="62.5" y2="429.2"/><line x1="57.6" y1="361.8" x2="62.5" y2="361.8"/><line x1="57.6" y1="294.4" x2="62.5" y2="294.4"/><line x1="57.6" y1="227.0" x2="62.5" y2="227.0"/><line x1="57.6" y1="159.6" x2="62.5" y2="159.6"/><line x1="57.6" y1="92.2" x2="62.5" y2="92.2"/></g>
<g font-size="15.28" text-anchor="middle"><text x="116.3" y="679.9">00Z/11</text><text x="116.5" y="698.2">Wed</text><text x="184.1" y="679.9">00Z/12</text><text x="184.3" y="698.2">Thu</text><text x="251.9" y="679.9">00Z/13</text><text x="252.1" y="698.2">Fri</text><text x="319.8" y="679.9">00Z/14</text><text x="320.0" y="698.2">Sat</text><text x="387.6" y="679.9">00Z/15</text><text x="387.8" y="698.2">Sun</text><text x="455.5" y="679.9">00Z/16</text><text x="455.7" y="698.2">Mon</text><text x="523.3" y="679.9">00Z/17</text><text x="523.5" y="698.2">Tue</text><text x="591.1" y="679.9">00Z/18</text><text x="591.4" y="698.2">Wed</text><text x="659.0" y="679.9">00Z/19</text><text x="659.2" y="698.2">Thu</text><text x="726.8" y="679.9">00Z/20</text><text x="727.0" y="698.2">Fri</text><text x="794.7" y="679.9">00Z/21</text><text x="794.9" y="698.2">Sat</text><text x="862.5" y="679.9">00Z/22</text><text x="862.7" y="698.2">Sun</text><text x="930.4" y="679.9">00Z/23</text><text x="930.6" y="698.2">Mon</text><text x="998.2" y="679.9">00Z/24</text><text x="998.4" y="698.2">Tue</text><text x="1066.0" y="679.9">00Z/25</text><text x="1066.2" y="698.2">Wed</text><text x="1133.9" y="679.9">00Z/26</text><text x="1134.1" y="698.2">Thu</text><text x="1201.7" y="679.9">00Z/27</text><text x="1201.9" y="698.2">Fri</text></g>
<g font-size="15.28" text-anchor="end"><text x="52.6" y="637.0">10</text><text x="52.6" y="569.6">20</text><text x="52.6" y="502.2">30</text><text x="52.6" y="434.8">40</text><text x="52.6" y="367.4">50</text><text x="52.6" y="300.0">60</text><text x="52.6" y="232.6">70</text><text x="52.6" y="165.2">80</text><text x="52.6" y="97.8">90</text></g>
<text x="658.6" y="720" font-size="15.28" text-anchor="middle">time (UTC)/date</text>
<text transform="translate(23,359) rotate(-90)" font-size="15.28" text-anchor="middle">temperature (Fahrenheit)</text>
<text x="639.5" y="25" font-size="18.3" font-weight="bold" text-anchor="middle">NCEP GEFS 2-m temperature at Lamar</text>
<text x="659" y="49.7" font-size="18.3" text-anchor="middle">init: Wednesday 2026-03-11 0000 UTC</text>
<g font-size="12.2" text-anchor="end"><text x="1225.6" y="638.6">Data source: NOAA</text><text x="1226" y="653.6">plot by Russ Schumacher/CSU</text></g>
<rect x="1181" y="65.1" width="68.8" height="526.5" rx="2.8" fill="#fff" fill-opacity="0.8" stroke="#ccc" stroke-opacity="0.8" stroke-width="1.4"/>
<text x="1216.4" y="77.9" font-size="11.3" text-anchor="middle">member</text>
<g font-size="10.45"><line x1="1186.4" y1="91.3" x2="1207.6" y2="91.3" stroke="#393b79" stroke-width="2.9" stroke-linecap="square"/><circle cx="1197" cy="91.3" r="3.75" fill="#393b79"/><text x="1216.0" y="94.3">c00</text><line x1="1186.4" y1="106.6" x2="1207.6" y2="106.6" stroke="#5254a3" stroke-width="2.9" stroke-linecap="square"/><circle cx="1197" cy="106.6" r="3.75" fill="#5254a3"/><text x="1216.0" y="109.6">p01</text><line x1="1186.4" y1="122.0" x2="1207.6" y2="122.0" stroke="#6b6ecf" stroke-width="2.9" stroke-linecap="square"/><circle cx="1197" cy="122.0" r="3.75" fill="#6b6ecf"/><text x="1216.0" y="125.0">p02</text><line x1="1186.4" y1="137.3" x2="1207.6" y2="137.3" stroke="#9c9ede" stroke-width="2.9" stroke-linecap="square"/><circle cx="1197" cy="137.3" r="3.75" fill="#9c9ede"/><text x="1216.0" y="140.3">p03</text><line x1="1186.4" y1="152.7" x2="1207.6" y2="152.7" stroke="#637939" stroke-width="2.9" stroke-linecap="square"/><circle cx="1197" cy="152.7" r="3.75" fill="#637939"/><text x="1216.0" y="155.7">p04</text><line x1="1186.4" y1="168.1" x2="1207.6" y2="168.1" stroke="#8ca252" stroke-width="2.9" stroke-linecap="square"/><circle cx="1197" cy="168.1" r="3.75" fill="#8ca252"/><text x="1216.0" y="171.1">p05</text><line x1="1186.4" y1="183.4" x2="1207.6" y2="183.4" stroke="#b5cf6b" stroke-width="2.9" stroke-linecap="square"/><circle cx="1197" cy="183.4" r="3.75" fill="#b5cf6b"/><text x="1216.0" y="186.4">p06</text><line x1="1186.4" y1="198.8" x2="1207.6" y2="198.8" stroke="#cedb9c" stroke-width="2.9" stroke-linecap="square"/><circle cx="1197" cy="198.8" r="3.75" fill="#cedb9c"/><text x="1216.0" y="201.8">p07</text><line x1="1186.4" y1="214.1" x2="1207.6" y2="214.1" stroke="#8c6d31" stroke-width="2.9" stroke-linecap="square"/><circle cx="1197" cy="214.1" r="3.75" fill="#8c6d31"/><text x="1216.0" y="217.1">p08</text><line x1="1186.4" y1="229.4" x2="1207.6" y2="229.4" stroke="#bd9e39" stroke-width="2.9" stroke-linecap="square"/><circle cx="1197" cy="229.4" r="3.75" fill="#bd9e39"/><text x="1216.0" y="232.4">p09</text><line x1="1186.4" y1="244.8" x2="1207.6" y2="244.8" stroke="#e7ba52" stroke-width="2.9" stroke-linecap="square"/><circle cx="1197" cy="244.8" r="3.75" fill="#e7ba52"/><text x="1216.0" y="247.8">p10</text><line x1="1186.4" y1="260.1" x2="1207.6" y2="260.1" stroke="#e7cb94" stroke-width="2.9" stroke-linecap="square"/><circle cx="1197" cy="260.1" r="3.75" fill="#e7cb94"/><text x="1216.0" y="263.1">p11</text><line x1="1186.4" y1="275.5" x2="1207.6" y2="275.5" stroke="#843c39" stroke-width="2.9" stroke-linecap="square"/><circle cx="1197" cy="275.5" r="3.75" fill="#843c39"/><text x="1216.0" y="278.5">p12</text><line x1="1186.4" y1="290.8" x2="1207.6" y2="290.8" stroke="#ad494a" stroke-width="2.9" stroke-linecap="square"/><circle cx="1197" cy="290.8" r="3.75" fill="#ad494a"/><text x="1216.0" y="293.8">p13</text><line x1="1186.4" y1="306.2" x2="1207.6" y2="306.2" stroke="#d6616b" stroke-width="2.9" stroke-linecap="square"/><circle cx="1197" cy="306.2" r="3.75" fill="#d6616b"/><text x="1216.0" y="309.2">p14</text><line x1="1186.4" y1="321.6" x2="1207.6" y2="321.6" stroke="#e7969c" stroke-width="2.9" stroke-linecap="square"/><circle cx="1197" cy="321.6" r="3.75" fill="#e7969c"/><text x="1216.0" y="324.6">p15</text><line x1="1186.4" y1="336.9" x2="1207.6" y2="336.9" stroke="#7b4173" stroke-width="2.9" stroke-linecap="square"/><circle cx="1197" cy="336.9" r="3.75" fill="#7b4173"/><text x="1216.0" y="339.9">p16</text><line x1="1186.4" y1="352.2" x2="1207.6" y2="352.2" stroke="#a55194" stroke-width="2.9" stroke-linecap="square"/><circle cx="1197" cy="352.2" r="3.75" fill="#a55194"/><text x="1216.0" y="355.2">p17</text><line x1="1186.4" y1="367.6" x2="1207.6" y2="367.6" stroke="#ce6dbd" stroke-width="2.9" stroke-linecap="square"/><circle cx="1197" cy="367.6" r="3.75" fill="#ce6dbd"/><text x="1216.0" y="370.6">p18</text><line x1="1186.4" y1="382.9" x2="1207.6" y2="382.9" stroke="#de9ed6" stroke-width="2.9" stroke-linecap="square"/><circle cx="1197" cy="382.9" r="3.75" fill="#de9ed6"/><text x="1216.0" y="385.9">p19</text><line x1="1186.4" y1="398.3" x2="1207.6" y2="398.3" stroke="#3182bd" stroke-width="2.9" stroke-linecap="square"/><circle cx="1197" cy="398.3" r="3.75" fill="#3182bd"/><text x="1216.0" y="401.3">p20</text><line x1="1186.4" y1="413.6" x2="1207.6" y2="413.6" stroke="#6baed6" stroke-width="2.9" stroke-linecap="square"/><circle cx="1197" cy="413.6" r="3.75" fill="#6baed6"/><text x="1216.0" y="416.6">p21</text><line x1="1186.4" y1="429.0" x2="1207.6" y2="429.0" stroke="#9ecae1" stroke-width="2.9" stroke-linecap="square"/><circle cx="1197" cy="429.0" r="3.75" fill="#9ecae1"/><text x="1216.0" y="432.0">p22</text><line x1="1186.4" y1="444.4" x2="1207.6" y2="444.4" stroke="#c6dbef" stroke-width="2.9" stroke-linecap="square"/><circle cx="1197" cy="444.4" r="3.75" fill="#c6dbef"/><text x="1216.0" y="447.4">p23</text><line x1="1186.4" y1="459.7" x2="1207.6" y2="459.7" stroke="#e6550d" stroke-width="2.9" stroke-linecap="square"/><circle cx="1197" cy="459.7" r="3.75" fill="#e6550d"/><text x="1216.0" y="462.7">p24</text><line x1="1186.4" y1="475.1" x2="1207.6" y2="475.1" stroke="#fd8d3c" stroke-width="2.9" stroke-linecap="square"/><circle cx="1197" cy="475.1" r="3.75" fill="#fd8d3c"/><text x="1216.0" y="478.1">p25</text><line x1="1186.4" y1="490.4" x2="1207.6" y2="490.4" stroke="#fdae6b" stroke-width="2.9" stroke-linecap="square"/><circle cx="1197" cy="490.4" r="3.75" fill="#fdae6b"/><text x="1216.0" y="493.4">p26</text><line x1="1186.4" y1="505.8" x2="1207.6" y2="505.8" stroke="#fdd0a2" stroke-width="2.9" stroke-linecap="square"/><circle cx="1197" cy="505.8" r="3.75" fill="#fdd0a2"/><text x="1216.0" y="508.8">p27</text><line x1="1186.4" y1="521.1" x2="1207.6" y2="521.1" stroke="#31a354" stroke-width="2.9" stroke-linecap="square"/><circle cx="1197" cy="521.1" r="3.75" fill="#31a354"/><text x="1216.0" y="524.1">p28</text><line x1="1186.4" y1="536.4" x2="1207.6" y2="536.4" stroke="#74c476" stroke-width="2.9" stroke-linecap="square"/><circle cx="1197" cy="536.4" r="3.75" fill="#74c476"/><text x="1216.0" y="539.4">p29</text><line x1="1186.4" y1="551.8" x2="1207.6" y2="551.8" stroke="#a1d99b" stroke-width="2.9" stroke-linecap="square"/><circle cx="1197" cy="551.8" r="3.75" fill="#a1d99b"/><text x="1216.0" y="554.8">p30</text><line x1="1186.4" y1="567.1" x2="1207.6" y2="567.1" stroke="#000" stroke-width="5.8" stroke-linecap="square"/><circle cx="1197" cy="567.1" r="5.20" fill="#000"/><text x="1216.0" y="570.1">mean</text><line x1="1186.4" y1="582.5" x2="1207.6" y2="582.5" stroke="#c0c0c0" stroke-width="4.6" stroke-linecap="square"/><text x="1216.0" y="585.5">climo</text></g>
</svg>
</body></html>
